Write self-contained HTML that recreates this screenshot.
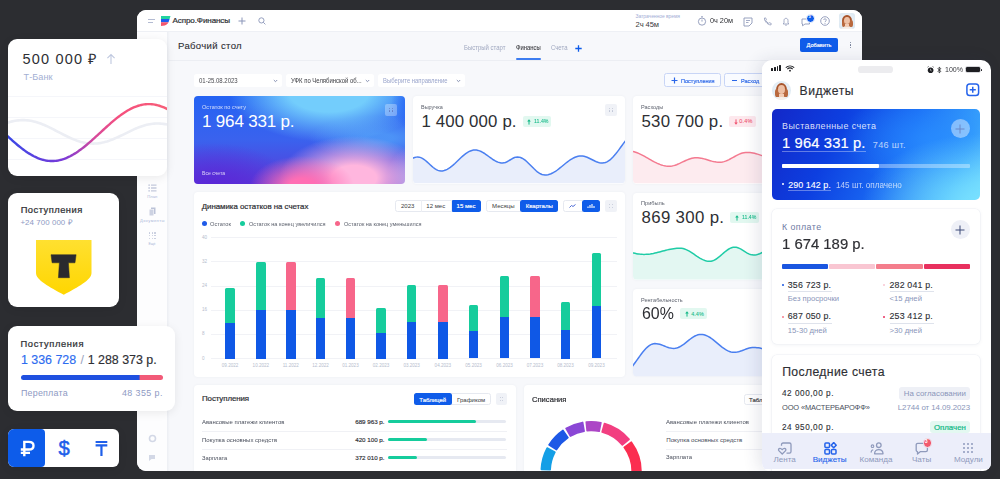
<!DOCTYPE html><html><head><meta charset="utf-8"><style>
html,body{margin:0;padding:0;}
body{width:1000px;height:479px;overflow:hidden;background:#2c2d31;position:relative;font-family:"Liberation Sans", sans-serif;}
</style></head><body><div style="position:absolute;left:137px;top:10px;width:725px;height:460.5px;border-radius:9px;overflow:hidden;background:#f7f8fb"><div style="position:absolute;left:-137px;top:-10px;width:1000px;height:479px"><div style="position:absolute;left:137.00px;top:10.00px;width:725.00px;height:21.00px;background:#ffffff;border-radius:0.00px;"></div><div style="position:absolute;left:137.00px;top:31.00px;width:725.00px;height:1.00px;background:#eef0f5;border-radius:0.00px;"></div><div style="position:absolute;left:137.00px;top:32.00px;width:30.00px;height:439.00px;background:#fdfdfe;border-radius:0.00px;"></div><div style="position:absolute;left:167.00px;top:32.00px;width:3.00px;height:439.00px;background:linear-gradient(90deg,#eceef3,rgba(240,242,247,0));border-radius:0.00px;"></div><div style="position:absolute;left:168.00px;top:60.00px;width:694.00px;height:1.00px;background:#eceef3;border-radius:0.00px;"></div><div style="position:absolute;left:148.00px;top:19.00px;width:7.00px;height:1.00px;background:#b3bbd2;border-radius:0.00px;"></div><div style="position:absolute;left:148.00px;top:21.50px;width:5.00px;height:1.00px;background:#b3bbd2;border-radius:0.00px;"></div><svg style="position:absolute;left:160px;top:16px" width="11" height="10" viewBox="0 0 11 10"><path d="M1 0H10.5L9.6 3H1Z" fill="#22d3a0"/><path d="M1 3H9.6L8.5 6.2H1Z" fill="#1d5ef0"/><path d="M1 6.2H8.5C7.5 8.5 5.5 9.6 3 9.8L1 10Z" fill="#f4566e"/></svg><div id="t1" style="position:absolute;top:17.45px;font-size:8.09px;line-height:8.09px;color:#2e2f34;font-weight:400;white-space:nowrap;letter-spacing:-0.112px;-webkit-text-stroke:0.21px #2e2f34;left:172.50px;">Аспро.Финансы</div><svg style="position:absolute;left:238px;top:17px" width="8" height="8" viewBox="0 0 8 8"><path d="M4 0.5V7.5M0.5 4H7.5" stroke="#8a95b8" stroke-width="1"/></svg><svg style="position:absolute;left:257.5px;top:17px" width="8" height="8" viewBox="0 0 8 8"><circle cx="3.4" cy="3.4" r="2.6" fill="none" stroke="#8a95b8" stroke-width="0.9"/><path d="M5.3 5.3L7.4 7.4" stroke="#8a95b8" stroke-width="0.9"/></svg><div id="t2" style="position:absolute;top:14.15px;font-size:4.98px;line-height:4.98px;color:#a3aed6;font-weight:400;white-space:nowrap;letter-spacing:-0.051px;left:635.50px;">Затраченное время</div><div id="t3" style="position:absolute;top:20.74px;font-size:7.58px;line-height:7.58px;color:#3a3b40;font-weight:400;white-space:nowrap;letter-spacing:-0.070px;left:635.50px;">2ч 45м</div><svg style="position:absolute;left:697px;top:16px" width="10" height="10" viewBox="0 0 10 10"><circle cx="5" cy="5.6" r="3.6" fill="none" stroke="#8d97b8" stroke-width="0.9"/><path d="M4 0.8H6M5 5.6V3.6" stroke="#8d97b8" stroke-width="0.9"/></svg><div id="t4" style="position:absolute;top:17.45px;font-size:8.09px;line-height:8.09px;color:#2e2f34;font-weight:400;white-space:nowrap;letter-spacing:0.000px;left:709.60px;transform:scaleX(0.9020);transform-origin:0 50%;">0ч 20м</div><svg style="position:absolute;left:742.5px;top:16.5px" width="10" height="10" viewBox="0 0 10 10"><path d="M1 1H9V6L6 9H1Z" fill="none" stroke="#8d97b8" stroke-width="0.9"/><path d="M3 3.5H7M3 5.5H5.5" stroke="#8d97b8" stroke-width="0.8"/></svg><svg style="position:absolute;left:762.5px;top:16.5px" width="9" height="9" viewBox="0 0 9 9"><path d="M1.5 1C1 3.5 4 7.6 7.8 8L8.3 6.6L6.6 5.7L5.8 6.4C4.5 5.8 3.3 4.6 2.7 3.3L3.4 2.5L2.5 0.8Z" fill="none" stroke="#8d97b8" stroke-width="0.8"/></svg><svg style="position:absolute;left:782px;top:16.5px" width="8" height="9" viewBox="0 0 8 9"><path d="M1.2 7H6.8L6 5.8V3.5C6 2.2 5.1 1.3 4 1.3C2.9 1.3 2 2.2 2 3.5V5.8Z" fill="none" stroke="#8d97b8" stroke-width="0.8"/><path d="M3.2 8.2H4.8" stroke="#8d97b8" stroke-width="0.8"/></svg><svg style="position:absolute;left:800.5px;top:17px" width="11" height="10" viewBox="0 0 11 10"><path d="M1 2H8.5V7H4L1.5 8.8V7H1Z" fill="none" stroke="#8d97b8" stroke-width="0.9"/></svg><div style="position:absolute;left:806px;top:14px;width:7px;height:7px;border-radius:50%;background:#0f5ce9;border:0.5px solid #fff"></div><div id="t5" style="position:absolute;top:15.39px;font-size:4.15px;line-height:4.15px;color:#fff;font-weight:700;white-space:nowrap;letter-spacing:0.000px;left:809.60px;transform:translateX(-50%);">3</div><svg style="position:absolute;left:819.5px;top:16px" width="10" height="10" viewBox="0 0 10 10"><circle cx="5" cy="5" r="4.3" fill="none" stroke="#8d97b8" stroke-width="0.9"/><path d="M3.6 4C3.6 2.4 6.4 2.4 6.4 4C6.4 5 5 5 5 6.2" fill="none" stroke="#8d97b8" stroke-width="0.8"/><circle cx="5" cy="7.5" r="0.5" fill="#8d97b8"/></svg><div style="position:absolute;left:838.7px;top:12.7px;width:16.5px;height:16.3px;border-radius:3px;overflow:hidden;background:radial-gradient(circle at 50% 45%,#f4f7fa 0%,#d6e5f0 100%)"><div style="position:absolute;left:0;top:0;width:100%;height:100%;filter:blur(0.35px)"><div style="position:absolute;left:22%;top:12%;width:58%;height:70%;border-radius:50% 50% 35% 35%;background:#a8552c"></div><div style="position:absolute;left:18%;top:45%;width:22%;height:40%;border-radius:40%;background:#b9693e"></div><div style="position:absolute;left:62%;top:45%;width:22%;height:40%;border-radius:40%;background:#b9693e"></div><div style="position:absolute;left:33%;top:24%;width:36%;height:46%;border-radius:50%;background:#eec1a6"></div><div style="position:absolute;left:38%;top:68%;width:26%;height:40%;background:#f2cdb6"></div><div style="position:absolute;left:15%;top:86%;width:70%;height:30%;border-radius:50% 50% 0 0;background:#f6efe9"></div></div></div><div id="t6" style="position:absolute;top:40.92px;font-size:9.55px;line-height:9.55px;color:#2e2f34;font-weight:400;white-space:nowrap;letter-spacing:0.339px;-webkit-text-stroke:0.11px #2e2f34;left:178.00px;">Рабочий стол</div><div id="t7" style="position:absolute;top:45.27px;font-size:6.75px;line-height:6.75px;color:#a0a8c0;font-weight:400;white-space:nowrap;letter-spacing:0.000px;left:464.00px;transform:scaleX(0.8859);transform-origin:0 50%;">Быстрый старт</div><div id="t8" style="position:absolute;top:45.27px;font-size:6.75px;line-height:6.75px;color:#3a3b40;font-weight:400;white-space:nowrap;letter-spacing:0.000px;-webkit-text-stroke:0.08px #3a3b40;left:516.00px;transform:scaleX(0.8679);transform-origin:0 50%;">Финансы</div><div style="position:absolute;left:516.00px;top:58.30px;width:25.00px;height:1.70px;background:#3c7cf0;border-radius:1.00px;"></div><div id="t9" style="position:absolute;top:45.27px;font-size:6.75px;line-height:6.75px;color:#a0a8c0;font-weight:400;white-space:nowrap;letter-spacing:0.000px;left:550.60px;transform:scaleX(0.8859);transform-origin:0 50%;">Счета</div><svg style="position:absolute;left:575px;top:44.5px" width="7" height="7" viewBox="0 0 7 7"><path d="M3.5 0.3V6.7M0.3 3.5H6.7" stroke="#0f5ce9" stroke-width="1.3"/></svg><div style="position:absolute;left:799.50px;top:37.50px;width:38.00px;height:14.50px;background:#0f5ce9;border-radius:2.00px;"></div><div id="t10" style="position:absolute;top:41.97px;font-size:6.12px;line-height:6.12px;color:#fff;font-weight:400;white-space:nowrap;letter-spacing:0.000px;-webkit-text-stroke:0.16px #fff;left:818.50px;transform:translateX(-50%) scaleX(0.9259);">Добавить</div><div style="position:absolute;left:850.00px;top:41.70px;width:1.20px;height:1.20px;background:#6b7590;border-radius:1.00px;"></div><div style="position:absolute;left:850.00px;top:44.40px;width:1.20px;height:1.20px;background:#6b7590;border-radius:1.00px;"></div><div style="position:absolute;left:850.00px;top:47.10px;width:1.20px;height:1.20px;background:#6b7590;border-radius:1.00px;"></div><div style="position:absolute;left:194.00px;top:73.50px;width:87.50px;height:13.50px;background:#ffffff;border-radius:2.50px;"></div><div id="t11" style="position:absolute;top:77.52px;font-size:6.43px;line-height:6.43px;color:#4a4b50;font-weight:400;white-space:nowrap;letter-spacing:0.000px;left:199.40px;transform:scaleX(0.9339);transform-origin:0 50%;">01-25.08.2023</div><svg style="position:absolute;left:272.5px;top:79px" width="5" height="4" viewBox="0 0 5 4"><path d="M0.8 1L2.5 2.7L4.2 1" fill="none" stroke="#7b86aa" stroke-width="0.9"/></svg><div style="position:absolute;left:286.00px;top:73.50px;width:87.50px;height:13.50px;background:#ffffff;border-radius:2.50px;"></div><div id="t12" style="position:absolute;top:77.52px;font-size:6.43px;line-height:6.43px;color:#3a3b40;font-weight:400;white-space:nowrap;letter-spacing:0.000px;left:291.00px;transform:scaleX(0.9238);transform-origin:0 50%;">УФК по Челябинской об...</div><svg style="position:absolute;left:364.5px;top:79px" width="5" height="4" viewBox="0 0 5 4"><path d="M0.8 1L2.5 2.7L4.2 1" fill="none" stroke="#7b86aa" stroke-width="0.9"/></svg><div style="position:absolute;left:378.00px;top:73.50px;width:87.00px;height:13.50px;background:#ffffff;border-radius:2.50px;"></div><div id="t13" style="position:absolute;top:77.52px;font-size:6.43px;line-height:6.43px;color:#9aa5cc;font-weight:400;white-space:nowrap;letter-spacing:0.000px;left:383.00px;transform:scaleX(0.9163);transform-origin:0 50%;">Выберите направление</div><svg style="position:absolute;left:456.0px;top:79px" width="5" height="4" viewBox="0 0 5 4"><path d="M0.8 1L2.5 2.7L4.2 1" fill="none" stroke="#7b86aa" stroke-width="0.9"/></svg><div style="position:absolute;left:664.00px;top:73.00px;width:57.00px;height:14.40px;background:#f9fbff;border-radius:2.50px;border:1px solid #c8d5f6;box-sizing:border-box"></div><svg style="position:absolute;left:670.5px;top:77px" width="7" height="7" viewBox="0 0 7 7"><path d="M3.5 0.5V6.5M0.5 3.5H6.5" stroke="#2a66e8" stroke-width="1.2"/></svg><div id="t14" style="position:absolute;top:77.57px;font-size:6.12px;line-height:6.12px;color:#2a66e8;font-weight:400;white-space:nowrap;letter-spacing:0.000px;-webkit-text-stroke:0.16px #2a66e8;left:680.90px;transform:scaleX(0.9047);transform-origin:0 50%;">Поступления</div><div style="position:absolute;left:724.30px;top:73.00px;width:75.70px;height:14.40px;background:#f9fbff;border-radius:2.50px;border:1px solid #c8d5f6;box-sizing:border-box"></div><div style="position:absolute;left:732.00px;top:79.60px;width:4.50px;height:1.20px;background:#2a66e8;border-radius:0.00px;"></div><div id="t15" style="position:absolute;top:77.57px;font-size:6.12px;line-height:6.12px;color:#2a66e8;font-weight:400;white-space:nowrap;letter-spacing:0.000px;-webkit-text-stroke:0.16px #2a66e8;left:740.80px;transform:scaleX(0.9036);transform-origin:0 50%;">Расход</div><div style="position:absolute;left:194.00px;top:95.50px;width:211.00px;height:88.00px;background:radial-gradient(52px 30px at 108px 90px, rgba(255,110,180,1.00) 0%, rgba(255,110,180,1.00) 25%, rgba(255,110,180,0) 100%),radial-gradient(75px 42px at 160px 82px, rgba(255,182,222,1.00) 0%, rgba(255,182,222,1.00) 30%, rgba(255,182,222,0) 100%),radial-gradient(30px 35px at 222px 84px, rgba(150,165,242,1.00) 0%, rgba(150,165,242,1.00) 10%, rgba(150,165,242,0) 100%),radial-gradient(80px 45px at 20px 92px, rgba(90,40,215,1.00) 0%, rgba(90,40,215,1.00) 10%, rgba(90,40,215,0) 100%),radial-gradient(25px 28px at 222px 8px, rgba(35,100,245,1.00) 0%, rgba(35,100,245,1.00) 20%, rgba(35,100,245,0) 100%),radial-gradient(100px 50px at 135px -4px, rgba(115,205,252,1.00) 0%, rgba(115,205,252,1.00) 40%, rgba(115,205,252,0) 100%),radial-gradient(70px 22px at 185px 42px, rgba(80,155,248,0.85) 0%, rgba(80,155,248,0.85) 20%, rgba(80,155,248,0) 100%),linear-gradient(180deg,#2463f3 0%,#3a62ee 50%,#5a3ad8 100%);border-radius:4.00px;"></div><div style="position:absolute;left:385.00px;top:103.70px;width:12.00px;height:12.00px;background:rgba(255,255,255,0.3);border-radius:2.00px;"></div><div style="position:absolute;left:389.10px;top:107.80px;width:1.20px;height:1.20px;background:rgba(80,90,160,0.6);border-radius:50%;"></div><div style="position:absolute;left:389.10px;top:110.40px;width:1.20px;height:1.20px;background:rgba(80,90,160,0.6);border-radius:50%;"></div><div style="position:absolute;left:391.70px;top:107.80px;width:1.20px;height:1.20px;background:rgba(80,90,160,0.6);border-radius:50%;"></div><div style="position:absolute;left:391.70px;top:110.40px;width:1.20px;height:1.20px;background:rgba(80,90,160,0.6);border-radius:50%;"></div><div id="t16" style="position:absolute;top:104.60px;font-size:5.91px;line-height:5.91px;color:rgba(255,255,255,0.78);font-weight:400;white-space:nowrap;letter-spacing:0.000px;left:202.00px;transform:scaleX(0.9485);transform-origin:0 50%;">Остаток по счету</div><div id="t17" style="position:absolute;top:113.33px;font-size:17.02px;line-height:17.02px;color:#ffffff;font-weight:400;white-space:nowrap;letter-spacing:-0.185px;left:202.00px;">1 964 331 р.</div><div id="t18" style="position:absolute;top:170.57px;font-size:5.50px;line-height:5.50px;color:rgba(255,255,255,0.78);font-weight:400;white-space:nowrap;letter-spacing:0.000px;left:202.00px;transform:scaleX(0.9217);transform-origin:0 50%;">Все счета</div><div style="position:absolute;left:413.00px;top:95.50px;width:212.00px;height:88.00px;background:#ffffff;border-radius:4.00px;box-shadow:0 0 3px rgba(40,50,90,0.05)"></div><div id="t19" style="position:absolute;top:104.52px;font-size:5.81px;line-height:5.81px;color:#5a5f6b;font-weight:400;white-space:nowrap;letter-spacing:0.000px;left:421.30px;transform:scaleX(0.9435);transform-origin:0 50%;">Выручка</div><div id="t20" style="position:absolute;top:113.76px;font-size:16.81px;line-height:16.81px;color:#2e2f34;font-weight:400;white-space:nowrap;letter-spacing:0.149px;left:421.50px;">1 400 000 р.</div><div style="position:absolute;left:522.50px;top:115.70px;width:28.80px;height:11.10px;background:#e2f8f0;border-radius:2.00px;"></div><svg style="position:absolute;left:527.2px;top:118.5px" width="4" height="6" viewBox="0 0 4 6"><path d="M2 0.3L3.8 2.6H0.2Z" fill="#12b886"/><path d="M2 2V5.6" stroke="#12b886" stroke-width="1"/></svg><div id="t21" style="position:absolute;top:119.07px;font-size:5.50px;line-height:5.50px;color:#12b886;font-weight:400;white-space:nowrap;letter-spacing:0.000px;-webkit-text-stroke:0.07px #12b886;left:533.75px;transform:scaleX(0.9547);transform-origin:0 50%;">11.4%</div><div style="position:absolute;left:605.00px;top:103.70px;width:12.00px;height:12.00px;background:#f0f2f7;border-radius:2.00px;"></div><div style="position:absolute;left:609.10px;top:107.80px;width:1.20px;height:1.20px;background:#c0c6d6;border-radius:50%;"></div><div style="position:absolute;left:609.10px;top:110.40px;width:1.20px;height:1.20px;background:#c0c6d6;border-radius:50%;"></div><div style="position:absolute;left:611.70px;top:107.80px;width:1.20px;height:1.20px;background:#c0c6d6;border-radius:50%;"></div><div style="position:absolute;left:611.70px;top:110.40px;width:1.20px;height:1.20px;background:#c0c6d6;border-radius:50%;"></div><svg style="position:absolute;left:0;top:0" width="1000" height="479"><defs><clipPath id="c21"><rect x="413.0" y="95.5" width="212.0" height="88.0" rx="4"/></clipPath></defs><g clip-path="url(#c21)"><path d="M395.00 168.00 L396.51 167.88 L398.03 167.52 L399.54 166.95 L401.05 166.18 L402.57 165.25 L404.08 164.20 L405.59 163.07 L407.11 161.93 L408.62 160.80 L410.13 159.75 L411.65 158.82 L413.16 158.05 L414.67 157.48 L416.19 157.12 L417.70 157.00 L419.25 157.15 L420.81 157.61 L422.36 158.34 L423.91 159.32 L425.47 160.50 L427.02 161.84 L428.57 163.27 L430.13 164.73 L431.68 166.16 L433.23 167.50 L434.79 168.68 L436.34 169.66 L437.89 170.39 L439.45 170.85 L441.00 171.00 L442.55 170.89 L444.09 170.57 L445.64 170.05 L447.18 169.33 L448.73 168.44 L450.27 167.38 L451.82 166.18 L453.36 164.86 L454.91 163.46 L456.45 161.99 L458.00 160.50 L459.55 159.01 L461.09 157.54 L462.64 156.14 L464.18 154.82 L465.73 153.62 L467.27 152.56 L468.82 151.67 L470.36 150.95 L471.91 150.43 L473.45 150.11 L475.00 150.00 L476.53 150.10 L478.06 150.39 L479.58 150.87 L481.11 151.52 L482.64 152.32 L484.17 153.25 L485.69 154.28 L487.22 155.37 L488.75 156.50 L490.28 157.63 L491.81 158.72 L493.33 159.75 L494.86 160.68 L496.39 161.48 L497.92 162.13 L499.44 162.61 L500.97 162.90 L502.50 163.00 L504.00 162.85 L505.50 162.43 L507.00 161.76 L508.50 160.93 L510.00 160.00 L511.50 159.07 L513.00 158.24 L514.50 157.57 L516.00 157.15 L517.50 157.00 L519.03 157.14 L520.56 157.54 L522.08 158.21 L523.61 159.11 L525.14 160.21 L526.67 161.50 L528.19 162.92 L529.72 164.44 L531.25 166.00 L532.78 167.56 L534.31 169.08 L535.83 170.50 L537.36 171.79 L538.89 172.89 L540.42 173.79 L541.94 174.46 L543.47 174.86 L545.00 175.00 L546.50 174.92 L548.00 174.68 L549.50 174.28 L551.00 173.73 L552.50 173.04 L554.00 172.22 L555.50 171.28 L557.00 170.25 L558.50 169.14 L560.00 167.96 L561.50 166.74 L563.00 165.50 L564.50 164.26 L566.00 163.04 L567.50 161.86 L569.00 160.75 L570.50 159.72 L572.00 158.78 L573.50 157.96 L575.00 157.27 L576.50 156.72 L578.00 156.32 L579.50 156.08 L581.00 156.00 L582.54 156.09 L584.07 156.35 L585.61 156.76 L587.14 157.32 L588.68 157.98 L590.21 158.72 L591.75 159.50 L593.29 160.28 L594.82 161.02 L596.36 161.68 L597.89 162.24 L599.43 162.65 L600.96 162.91 L602.50 163.00 L604.00 162.87 L605.50 162.48 L607.00 161.84 L608.50 160.96 L610.00 159.85 L611.50 158.53 L613.00 157.02 L614.50 155.34 L616.00 153.53 L617.50 151.60 L619.00 149.59 L620.50 147.54 L622.00 145.46 L623.50 143.41 L625.00 141.40 L626.50 139.47 L628.00 137.66 L629.50 135.98 L631.00 134.47 L632.50 133.15 L634.00 132.04 L635.50 131.16 L637.00 130.52 L638.50 130.13 L640.00 130.00 L640.0 183.5 L395.0 183.5 Z" fill="#e9eefb"/><path d="M395.00 168.00 L396.51 167.88 L398.03 167.52 L399.54 166.95 L401.05 166.18 L402.57 165.25 L404.08 164.20 L405.59 163.07 L407.11 161.93 L408.62 160.80 L410.13 159.75 L411.65 158.82 L413.16 158.05 L414.67 157.48 L416.19 157.12 L417.70 157.00 L419.25 157.15 L420.81 157.61 L422.36 158.34 L423.91 159.32 L425.47 160.50 L427.02 161.84 L428.57 163.27 L430.13 164.73 L431.68 166.16 L433.23 167.50 L434.79 168.68 L436.34 169.66 L437.89 170.39 L439.45 170.85 L441.00 171.00 L442.55 170.89 L444.09 170.57 L445.64 170.05 L447.18 169.33 L448.73 168.44 L450.27 167.38 L451.82 166.18 L453.36 164.86 L454.91 163.46 L456.45 161.99 L458.00 160.50 L459.55 159.01 L461.09 157.54 L462.64 156.14 L464.18 154.82 L465.73 153.62 L467.27 152.56 L468.82 151.67 L470.36 150.95 L471.91 150.43 L473.45 150.11 L475.00 150.00 L476.53 150.10 L478.06 150.39 L479.58 150.87 L481.11 151.52 L482.64 152.32 L484.17 153.25 L485.69 154.28 L487.22 155.37 L488.75 156.50 L490.28 157.63 L491.81 158.72 L493.33 159.75 L494.86 160.68 L496.39 161.48 L497.92 162.13 L499.44 162.61 L500.97 162.90 L502.50 163.00 L504.00 162.85 L505.50 162.43 L507.00 161.76 L508.50 160.93 L510.00 160.00 L511.50 159.07 L513.00 158.24 L514.50 157.57 L516.00 157.15 L517.50 157.00 L519.03 157.14 L520.56 157.54 L522.08 158.21 L523.61 159.11 L525.14 160.21 L526.67 161.50 L528.19 162.92 L529.72 164.44 L531.25 166.00 L532.78 167.56 L534.31 169.08 L535.83 170.50 L537.36 171.79 L538.89 172.89 L540.42 173.79 L541.94 174.46 L543.47 174.86 L545.00 175.00 L546.50 174.92 L548.00 174.68 L549.50 174.28 L551.00 173.73 L552.50 173.04 L554.00 172.22 L555.50 171.28 L557.00 170.25 L558.50 169.14 L560.00 167.96 L561.50 166.74 L563.00 165.50 L564.50 164.26 L566.00 163.04 L567.50 161.86 L569.00 160.75 L570.50 159.72 L572.00 158.78 L573.50 157.96 L575.00 157.27 L576.50 156.72 L578.00 156.32 L579.50 156.08 L581.00 156.00 L582.54 156.09 L584.07 156.35 L585.61 156.76 L587.14 157.32 L588.68 157.98 L590.21 158.72 L591.75 159.50 L593.29 160.28 L594.82 161.02 L596.36 161.68 L597.89 162.24 L599.43 162.65 L600.96 162.91 L602.50 163.00 L604.00 162.87 L605.50 162.48 L607.00 161.84 L608.50 160.96 L610.00 159.85 L611.50 158.53 L613.00 157.02 L614.50 155.34 L616.00 153.53 L617.50 151.60 L619.00 149.59 L620.50 147.54 L622.00 145.46 L623.50 143.41 L625.00 141.40 L626.50 139.47 L628.00 137.66 L629.50 135.98 L631.00 134.47 L632.50 133.15 L634.00 132.04 L635.50 131.16 L637.00 130.52 L638.50 130.13 L640.00 130.00" fill="none" stroke="#4a7ff0" stroke-width="1.5"/></g></svg><div style="position:absolute;left:633.00px;top:95.50px;width:229.00px;height:88.00px;background:#ffffff;border-radius:4.00px;box-shadow:0 0 3px rgba(40,50,90,0.05)"></div><div id="t22" style="position:absolute;top:104.52px;font-size:5.81px;line-height:5.81px;color:#5a5f6b;font-weight:400;white-space:nowrap;letter-spacing:0.000px;left:641.30px;transform:scaleX(0.9579);transform-origin:0 50%;">Расходы</div><div id="t23" style="position:absolute;top:113.76px;font-size:16.81px;line-height:16.81px;color:#2e2f34;font-weight:400;white-space:nowrap;letter-spacing:0.239px;left:641.50px;">530 700 р.</div><div style="position:absolute;left:728.60px;top:115.70px;width:27.40px;height:11.10px;background:#fde8ed;border-radius:2.00px;"></div><svg style="position:absolute;left:734.0px;top:118.5px" width="4" height="6" viewBox="0 0 4 6"><path d="M2 5.7L3.8 3.4H0.2Z" fill="#f0506e"/><path d="M2 4V0.4" stroke="#f0506e" stroke-width="1"/></svg><div id="t24" style="position:absolute;top:119.07px;font-size:5.50px;line-height:5.50px;color:#f0506e;font-weight:400;white-space:nowrap;letter-spacing:0.213px;-webkit-text-stroke:0.07px #f0506e;left:739.30px;">0.4%</div><svg style="position:absolute;left:0;top:0" width="1000" height="479"><defs><clipPath id="c24"><rect x="633.0" y="95.5" width="229.0" height="88.0" rx="4"/></clipPath></defs><g clip-path="url(#c24)"><path d="M628.00 151.00 L629.52 151.05 L631.04 151.20 L632.56 151.46 L634.07 151.81 L635.59 152.25 L637.11 152.78 L638.63 153.38 L640.15 154.06 L641.67 154.80 L643.19 155.59 L644.70 156.42 L646.22 157.28 L647.74 158.16 L649.26 159.04 L650.78 159.92 L652.30 160.78 L653.81 161.61 L655.33 162.40 L656.85 163.14 L658.37 163.82 L659.89 164.42 L661.41 164.95 L662.93 165.39 L664.44 165.74 L665.96 166.00 L667.48 166.15 L669.00 166.20 L670.52 166.14 L672.04 165.94 L673.57 165.63 L675.09 165.21 L676.61 164.68 L678.13 164.07 L679.66 163.40 L681.18 162.69 L682.70 161.95 L684.22 161.21 L685.74 160.50 L687.27 159.82 L688.79 159.22 L690.31 158.69 L691.83 158.27 L693.36 157.96 L694.88 157.76 L696.40 157.70 L697.93 157.75 L699.47 157.90 L701.00 158.14 L702.53 158.46 L704.07 158.85 L705.60 159.29 L707.13 159.76 L708.67 160.24 L710.20 160.71 L711.73 161.15 L713.27 161.54 L714.80 161.86 L716.33 162.10 L717.87 162.25 L719.40 162.30 L720.93 162.22 L722.47 162.00 L724.00 161.64 L725.53 161.14 L727.07 160.53 L728.60 159.83 L730.13 159.04 L731.67 158.21 L733.20 157.35 L734.73 156.49 L736.27 155.66 L737.80 154.88 L739.33 154.17 L740.87 153.56 L742.40 153.06 L743.93 152.70 L745.47 152.48 L747.00 152.40 L748.50 152.44 L750.00 152.55 L751.50 152.74 L753.00 153.00 L754.50 153.33 L756.00 153.71 L757.50 154.15 L759.00 154.62 L760.50 155.13 L762.00 155.66 L763.50 156.20 L765.00 156.74 L766.50 157.27 L768.00 157.78 L769.50 158.25 L771.00 158.69 L772.50 159.07 L774.00 159.40 L775.50 159.66 L777.00 159.85 L778.50 159.96 L780.00 160.00 L780.0 183.5 L628.0 183.5 Z" fill="#fdebef"/><path d="M628.00 151.00 L629.52 151.05 L631.04 151.20 L632.56 151.46 L634.07 151.81 L635.59 152.25 L637.11 152.78 L638.63 153.38 L640.15 154.06 L641.67 154.80 L643.19 155.59 L644.70 156.42 L646.22 157.28 L647.74 158.16 L649.26 159.04 L650.78 159.92 L652.30 160.78 L653.81 161.61 L655.33 162.40 L656.85 163.14 L658.37 163.82 L659.89 164.42 L661.41 164.95 L662.93 165.39 L664.44 165.74 L665.96 166.00 L667.48 166.15 L669.00 166.20 L670.52 166.14 L672.04 165.94 L673.57 165.63 L675.09 165.21 L676.61 164.68 L678.13 164.07 L679.66 163.40 L681.18 162.69 L682.70 161.95 L684.22 161.21 L685.74 160.50 L687.27 159.82 L688.79 159.22 L690.31 158.69 L691.83 158.27 L693.36 157.96 L694.88 157.76 L696.40 157.70 L697.93 157.75 L699.47 157.90 L701.00 158.14 L702.53 158.46 L704.07 158.85 L705.60 159.29 L707.13 159.76 L708.67 160.24 L710.20 160.71 L711.73 161.15 L713.27 161.54 L714.80 161.86 L716.33 162.10 L717.87 162.25 L719.40 162.30 L720.93 162.22 L722.47 162.00 L724.00 161.64 L725.53 161.14 L727.07 160.53 L728.60 159.83 L730.13 159.04 L731.67 158.21 L733.20 157.35 L734.73 156.49 L736.27 155.66 L737.80 154.88 L739.33 154.17 L740.87 153.56 L742.40 153.06 L743.93 152.70 L745.47 152.48 L747.00 152.40 L748.50 152.44 L750.00 152.55 L751.50 152.74 L753.00 153.00 L754.50 153.33 L756.00 153.71 L757.50 154.15 L759.00 154.62 L760.50 155.13 L762.00 155.66 L763.50 156.20 L765.00 156.74 L766.50 157.27 L768.00 157.78 L769.50 158.25 L771.00 158.69 L772.50 159.07 L774.00 159.40 L775.50 159.66 L777.00 159.85 L778.50 159.96 L780.00 160.00" fill="none" stroke="#f47a90" stroke-width="1.5"/></g></svg><div style="position:absolute;left:633.00px;top:192.70px;width:229.00px;height:87.00px;background:#ffffff;border-radius:4.00px;box-shadow:0 0 3px rgba(40,50,90,0.05)"></div><div id="t25" style="position:absolute;top:200.92px;font-size:5.81px;line-height:5.81px;color:#5a5f6b;font-weight:400;white-space:nowrap;letter-spacing:0.000px;left:641.30px;transform:scaleX(0.9661);transform-origin:0 50%;">Прибыль</div><div id="t26" style="position:absolute;top:210.16px;font-size:16.81px;line-height:16.81px;color:#2e2f34;font-weight:400;white-space:nowrap;letter-spacing:0.349px;left:641.50px;">869 300 р.</div><div style="position:absolute;left:730.00px;top:212.10px;width:29.20px;height:11.10px;background:#e2f8f0;border-radius:2.00px;"></div><svg style="position:absolute;left:734.8px;top:214.9px" width="4" height="6" viewBox="0 0 4 6"><path d="M2 0.3L3.8 2.6H0.2Z" fill="#12b886"/><path d="M2 2V5.6" stroke="#12b886" stroke-width="1"/></svg><div id="t27" style="position:absolute;top:215.47px;font-size:5.50px;line-height:5.50px;color:#12b886;font-weight:400;white-space:nowrap;letter-spacing:0.000px;-webkit-text-stroke:0.07px #12b886;left:741.70px;transform:scaleX(0.9416);transform-origin:0 50%;">11.4%</div><svg style="position:absolute;left:0;top:0" width="1000" height="479"><defs><clipPath id="c27"><rect x="633.0" y="192.7" width="229.0" height="87.0" rx="4"/></clipPath></defs><g clip-path="url(#c27)"><path d="M620.00 251.00 L621.50 251.03 L623.00 251.13 L624.50 251.29 L626.00 251.50 L627.50 251.76 L629.00 252.05 L630.50 252.37 L632.00 252.70 L633.50 253.03 L635.00 253.35 L636.50 253.64 L638.00 253.90 L639.50 254.11 L641.00 254.27 L642.50 254.37 L644.00 254.40 L645.56 254.37 L647.12 254.29 L648.68 254.14 L650.24 253.95 L651.80 253.70 L653.37 253.42 L654.93 253.09 L656.49 252.73 L658.05 252.34 L659.61 251.93 L661.17 251.51 L662.73 251.09 L664.29 250.67 L665.85 250.26 L667.41 249.87 L668.97 249.51 L670.53 249.18 L672.10 248.90 L673.66 248.65 L675.22 248.46 L676.78 248.31 L678.34 248.23 L679.90 248.20 L681.46 248.29 L683.03 248.55 L684.59 248.99 L686.15 249.58 L687.72 250.31 L689.28 251.17 L690.84 252.12 L692.41 253.14 L693.97 254.21 L695.53 255.29 L697.09 256.36 L698.66 257.38 L700.22 258.33 L701.78 259.19 L703.35 259.92 L704.91 260.51 L706.47 260.95 L708.04 261.21 L709.60 261.30 L711.17 261.16 L712.74 260.76 L714.31 260.11 L715.88 259.24 L717.44 258.17 L719.01 256.95 L720.58 255.63 L722.15 254.25 L723.72 252.87 L725.29 251.55 L726.86 250.33 L728.43 249.26 L729.99 248.39 L731.56 247.74 L733.13 247.34 L734.70 247.20 L736.27 247.33 L737.83 247.72 L739.40 248.34 L740.97 249.15 L742.53 250.09 L744.10 251.10 L745.67 252.11 L747.23 253.05 L748.80 253.86 L750.37 254.48 L751.93 254.87 L753.50 255.00 L755.04 254.91 L756.57 254.65 L758.11 254.24 L759.64 253.68 L761.18 253.02 L762.71 252.28 L764.25 251.50 L765.79 250.72 L767.32 249.98 L768.86 249.32 L770.39 248.76 L771.93 248.35 L773.46 248.09 L775.00 248.00 L775.0 279.7 L620.0 279.7 Z" fill="#e3f7f2"/><path d="M620.00 251.00 L621.50 251.03 L623.00 251.13 L624.50 251.29 L626.00 251.50 L627.50 251.76 L629.00 252.05 L630.50 252.37 L632.00 252.70 L633.50 253.03 L635.00 253.35 L636.50 253.64 L638.00 253.90 L639.50 254.11 L641.00 254.27 L642.50 254.37 L644.00 254.40 L645.56 254.37 L647.12 254.29 L648.68 254.14 L650.24 253.95 L651.80 253.70 L653.37 253.42 L654.93 253.09 L656.49 252.73 L658.05 252.34 L659.61 251.93 L661.17 251.51 L662.73 251.09 L664.29 250.67 L665.85 250.26 L667.41 249.87 L668.97 249.51 L670.53 249.18 L672.10 248.90 L673.66 248.65 L675.22 248.46 L676.78 248.31 L678.34 248.23 L679.90 248.20 L681.46 248.29 L683.03 248.55 L684.59 248.99 L686.15 249.58 L687.72 250.31 L689.28 251.17 L690.84 252.12 L692.41 253.14 L693.97 254.21 L695.53 255.29 L697.09 256.36 L698.66 257.38 L700.22 258.33 L701.78 259.19 L703.35 259.92 L704.91 260.51 L706.47 260.95 L708.04 261.21 L709.60 261.30 L711.17 261.16 L712.74 260.76 L714.31 260.11 L715.88 259.24 L717.44 258.17 L719.01 256.95 L720.58 255.63 L722.15 254.25 L723.72 252.87 L725.29 251.55 L726.86 250.33 L728.43 249.26 L729.99 248.39 L731.56 247.74 L733.13 247.34 L734.70 247.20 L736.27 247.33 L737.83 247.72 L739.40 248.34 L740.97 249.15 L742.53 250.09 L744.10 251.10 L745.67 252.11 L747.23 253.05 L748.80 253.86 L750.37 254.48 L751.93 254.87 L753.50 255.00 L755.04 254.91 L756.57 254.65 L758.11 254.24 L759.64 253.68 L761.18 253.02 L762.71 252.28 L764.25 251.50 L765.79 250.72 L767.32 249.98 L768.86 249.32 L770.39 248.76 L771.93 248.35 L773.46 248.09 L775.00 248.00" fill="none" stroke="#1fcca6" stroke-width="1.5"/></g></svg><div style="position:absolute;left:633.00px;top:289.20px;width:229.00px;height:87.30px;background:#ffffff;border-radius:4.00px;box-shadow:0 0 3px rgba(40,50,90,0.05)"></div><div id="t28" style="position:absolute;top:297.52px;font-size:5.81px;line-height:5.81px;color:#5a5f6b;font-weight:400;white-space:nowrap;letter-spacing:0.000px;left:641.30px;transform:scaleX(0.9576);transform-origin:0 50%;">Рентабельность</div><div id="t29" style="position:absolute;top:306.26px;font-size:16.81px;line-height:16.81px;color:#2e2f34;font-weight:400;white-space:nowrap;letter-spacing:0.000px;left:641.50px;transform:scaleX(0.9487);transform-origin:0 50%;">60%</div><div style="position:absolute;left:680.30px;top:308.20px;width:26.90px;height:11.10px;background:#e2f8f0;border-radius:2.00px;"></div><svg style="position:absolute;left:685.1px;top:311.0px" width="4" height="6" viewBox="0 0 4 6"><path d="M2 0.3L3.8 2.6H0.2Z" fill="#12b886"/><path d="M2 2V5.6" stroke="#12b886" stroke-width="1"/></svg><div id="t30" style="position:absolute;top:311.57px;font-size:5.50px;line-height:5.50px;color:#12b886;font-weight:400;white-space:nowrap;letter-spacing:-0.012px;-webkit-text-stroke:0.07px #12b886;left:691.30px;">4.4%</div><svg style="position:absolute;left:0;top:0" width="1000" height="479"><defs><clipPath id="c30"><rect x="633.0" y="289.2" width="229.0" height="87.3" rx="4"/></clipPath></defs><g clip-path="url(#c30)"><path d="M620.00 375.00 L621.52 374.85 L623.04 374.42 L624.57 373.70 L626.09 372.71 L627.61 371.48 L629.13 370.02 L630.65 368.35 L632.17 366.52 L633.70 364.56 L635.22 362.49 L636.74 360.37 L638.26 358.23 L639.78 356.11 L641.30 354.04 L642.83 352.08 L644.35 350.25 L645.87 348.58 L647.39 347.12 L648.91 345.89 L650.43 344.90 L651.96 344.18 L653.48 343.75 L655.00 343.60 L656.56 343.68 L658.12 343.92 L659.67 344.30 L661.23 344.80 L662.79 345.38 L664.35 346.00 L665.91 346.62 L667.47 347.20 L669.03 347.70 L670.58 348.08 L672.14 348.32 L673.70 348.40 L675.22 348.29 L676.73 347.98 L678.25 347.46 L679.77 346.76 L681.28 345.90 L682.80 344.90 L684.32 343.79 L685.83 342.62 L687.35 341.40 L688.87 340.18 L690.38 339.01 L691.90 337.90 L693.42 336.90 L694.93 336.04 L696.45 335.34 L697.97 334.82 L699.48 334.51 L701.00 334.40 L702.50 334.49 L704.00 334.76 L705.50 335.21 L707.00 335.82 L708.50 336.59 L710.00 337.49 L711.50 338.51 L713.00 339.63 L714.50 340.83 L716.00 342.08 L717.50 343.35 L719.00 344.62 L720.50 345.87 L722.00 347.07 L723.50 348.19 L725.00 349.21 L726.50 350.11 L728.00 350.88 L729.50 351.49 L731.00 351.94 L732.50 352.21 L734.00 352.30 L735.52 352.23 L737.05 352.03 L738.57 351.70 L740.09 351.26 L741.62 350.75 L743.14 350.19 L744.66 349.61 L746.18 349.05 L747.71 348.54 L749.23 348.10 L750.75 347.77 L752.28 347.57 L753.80 347.50 L755.34 347.54 L756.88 347.65 L758.42 347.84 L759.96 348.09 L761.51 348.39 L763.05 348.75 L764.59 349.13 L766.13 349.54 L767.67 349.96 L769.21 350.37 L770.75 350.75 L772.29 351.11 L773.84 351.41 L775.38 351.66 L776.92 351.85 L778.46 351.96 L780.00 352.00 L780.0 376.5 L620.0 376.5 Z" fill="#e9eefb"/><path d="M620.00 375.00 L621.52 374.85 L623.04 374.42 L624.57 373.70 L626.09 372.71 L627.61 371.48 L629.13 370.02 L630.65 368.35 L632.17 366.52 L633.70 364.56 L635.22 362.49 L636.74 360.37 L638.26 358.23 L639.78 356.11 L641.30 354.04 L642.83 352.08 L644.35 350.25 L645.87 348.58 L647.39 347.12 L648.91 345.89 L650.43 344.90 L651.96 344.18 L653.48 343.75 L655.00 343.60 L656.56 343.68 L658.12 343.92 L659.67 344.30 L661.23 344.80 L662.79 345.38 L664.35 346.00 L665.91 346.62 L667.47 347.20 L669.03 347.70 L670.58 348.08 L672.14 348.32 L673.70 348.40 L675.22 348.29 L676.73 347.98 L678.25 347.46 L679.77 346.76 L681.28 345.90 L682.80 344.90 L684.32 343.79 L685.83 342.62 L687.35 341.40 L688.87 340.18 L690.38 339.01 L691.90 337.90 L693.42 336.90 L694.93 336.04 L696.45 335.34 L697.97 334.82 L699.48 334.51 L701.00 334.40 L702.50 334.49 L704.00 334.76 L705.50 335.21 L707.00 335.82 L708.50 336.59 L710.00 337.49 L711.50 338.51 L713.00 339.63 L714.50 340.83 L716.00 342.08 L717.50 343.35 L719.00 344.62 L720.50 345.87 L722.00 347.07 L723.50 348.19 L725.00 349.21 L726.50 350.11 L728.00 350.88 L729.50 351.49 L731.00 351.94 L732.50 352.21 L734.00 352.30 L735.52 352.23 L737.05 352.03 L738.57 351.70 L740.09 351.26 L741.62 350.75 L743.14 350.19 L744.66 349.61 L746.18 349.05 L747.71 348.54 L749.23 348.10 L750.75 347.77 L752.28 347.57 L753.80 347.50 L755.34 347.54 L756.88 347.65 L758.42 347.84 L759.96 348.09 L761.51 348.39 L763.05 348.75 L764.59 349.13 L766.13 349.54 L767.67 349.96 L769.21 350.37 L770.75 350.75 L772.29 351.11 L773.84 351.41 L775.38 351.66 L776.92 351.85 L778.46 351.96 L780.00 352.00" fill="none" stroke="#4a7ff0" stroke-width="1.5"/></g></svg><div style="position:absolute;left:194.00px;top:192.00px;width:431.00px;height:185.00px;background:#ffffff;border-radius:4.00px;box-shadow:0 0 3px rgba(40,50,90,0.05)"></div><div id="t31" style="position:absolute;top:202.89px;font-size:7.89px;line-height:7.89px;color:#2e2f34;font-weight:400;white-space:nowrap;letter-spacing:-0.019px;-webkit-text-stroke:0.21px #2e2f34;left:201.70px;">Динамика остатков на счетах</div><div style="position:absolute;left:394.70px;top:200.00px;width:86.40px;height:12.20px;background:#ffffff;border-radius:2.50px;border:1px solid #e6e9f0;box-sizing:border-box"></div><div id="t32" style="position:absolute;top:203.19px;font-size:6.02px;line-height:6.02px;color:#3a3b40;font-weight:400;white-space:nowrap;letter-spacing:0.000px;left:407.65px;transform:translateX(-50%);">2023</div><div id="t33" style="position:absolute;top:203.19px;font-size:6.02px;line-height:6.02px;color:#3a3b40;font-weight:400;white-space:nowrap;letter-spacing:0.000px;left:435.80px;transform:translateX(-50%);">12 мес</div><div style="position:absolute;left:451.00px;top:200.00px;width:30.10px;height:12.20px;background:#0f5ce9;border-radius:2.50px;"></div><div id="t34" style="position:absolute;top:203.19px;font-size:6.02px;line-height:6.02px;color:#fff;font-weight:400;white-space:nowrap;letter-spacing:0.000px;-webkit-text-stroke:0.16px #fff;left:466.05px;transform:translateX(-50%);">15 мес</div><div style="position:absolute;left:420.60px;top:200.00px;width:0.80px;height:12.00px;background:#eceef3;border-radius:0.00px;"></div><div style="position:absolute;left:451.00px;top:200.00px;width:0.80px;height:12.00px;background:#eceef3;border-radius:0.00px;"></div><div style="position:absolute;left:486.40px;top:200.00px;width:71.70px;height:12.20px;background:#ffffff;border-radius:2.50px;border:1px solid #e6e9f0;box-sizing:border-box"></div><div id="t35" style="position:absolute;top:203.19px;font-size:6.02px;line-height:6.02px;color:#3a3b40;font-weight:400;white-space:nowrap;letter-spacing:0.000px;left:503.35px;transform:translateX(-50%);">Месяцы</div><div style="position:absolute;left:520.30px;top:200.00px;width:37.80px;height:12.20px;background:#0f5ce9;border-radius:2.50px;"></div><div id="t36" style="position:absolute;top:203.19px;font-size:6.02px;line-height:6.02px;color:#fff;font-weight:400;white-space:nowrap;letter-spacing:0.000px;-webkit-text-stroke:0.16px #fff;left:539.20px;transform:translateX(-50%);">Кварталы</div><div style="position:absolute;left:563.30px;top:200.00px;width:36.80px;height:12.20px;background:#ffffff;border-radius:2.50px;border:1px solid #e6e9f0;box-sizing:border-box"></div><div style="position:absolute;left:582.00px;top:200.00px;width:18.10px;height:12.20px;background:#0f5ce9;border-radius:2.50px;"></div><svg style="position:absolute;left:569px;top:203px" width="8" height="6" viewBox="0 0 8 6"><path d="M0.5 4.5L2.5 2.5L4 3.5L6.5 1.5" fill="none" stroke="#3a5ad0" stroke-width="0.9"/></svg><svg style="position:absolute;left:587px;top:203px" width="8" height="6" viewBox="0 0 8 6"><path d="M1 5V3.5M3 5V2M5 5V1M7 5V3" stroke="#fff" stroke-width="1.1"/></svg><div style="position:absolute;left:605.30px;top:200.00px;width:11.70px;height:12.00px;background:#f0f2f7;border-radius:2.00px;"></div><div style="position:absolute;left:609.30px;top:204.10px;width:1.20px;height:1.20px;background:#c0c6d6;border-radius:50%;"></div><div style="position:absolute;left:609.30px;top:206.70px;width:1.20px;height:1.20px;background:#c0c6d6;border-radius:50%;"></div><div style="position:absolute;left:611.90px;top:204.10px;width:1.20px;height:1.20px;background:#c0c6d6;border-radius:50%;"></div><div style="position:absolute;left:611.90px;top:206.70px;width:1.20px;height:1.20px;background:#c0c6d6;border-radius:50%;"></div><div style="position:absolute;left:201.70px;top:221.20px;width:5.00px;height:5.00px;background:#1f5be8;border-radius:50%;"></div><div id="t37" style="position:absolute;top:221.29px;font-size:6.02px;line-height:6.02px;color:#5a5f6b;font-weight:400;white-space:nowrap;letter-spacing:0.000px;left:209.70px;transform:scaleX(0.9432);transform-origin:0 50%;">Остаток</div><div style="position:absolute;left:240.10px;top:221.20px;width:5.00px;height:5.00px;background:#16cc9c;border-radius:50%;"></div><div id="t38" style="position:absolute;top:221.29px;font-size:6.02px;line-height:6.02px;color:#5a5f6b;font-weight:400;white-space:nowrap;letter-spacing:0.000px;left:248.50px;transform:scaleX(0.9271);transform-origin:0 50%;">Остаток на конец увеличился</div><div style="position:absolute;left:334.60px;top:221.20px;width:5.00px;height:5.00px;background:#f7668a;border-radius:50%;"></div><div id="t39" style="position:absolute;top:221.29px;font-size:6.02px;line-height:6.02px;color:#5a5f6b;font-weight:400;white-space:nowrap;letter-spacing:0.000px;left:343.60px;transform:scaleX(0.9124);transform-origin:0 50%;">Остаток на конец уменьшился</div><div style="position:absolute;left:211.00px;top:237.10px;width:406.00px;height:0.90px;background:#f1f2f6;border-radius:0.00px;"></div><div id="t40" style="position:absolute;top:235.62px;font-size:4.57px;line-height:4.57px;color:#b5bccd;font-weight:400;white-space:nowrap;letter-spacing:0.000px;left:202.00px;">40</div><div style="position:absolute;left:211.00px;top:261.30px;width:406.00px;height:0.90px;background:#f1f2f6;border-radius:0.00px;"></div><div id="t41" style="position:absolute;top:259.82px;font-size:4.57px;line-height:4.57px;color:#b5bccd;font-weight:400;white-space:nowrap;letter-spacing:0.000px;left:202.00px;">32</div><div style="position:absolute;left:211.00px;top:285.50px;width:406.00px;height:0.90px;background:#f1f2f6;border-radius:0.00px;"></div><div id="t42" style="position:absolute;top:284.02px;font-size:4.57px;line-height:4.57px;color:#b5bccd;font-weight:400;white-space:nowrap;letter-spacing:0.000px;left:202.00px;">24</div><div style="position:absolute;left:211.00px;top:309.70px;width:406.00px;height:0.90px;background:#f1f2f6;border-radius:0.00px;"></div><div id="t43" style="position:absolute;top:308.22px;font-size:4.57px;line-height:4.57px;color:#b5bccd;font-weight:400;white-space:nowrap;letter-spacing:0.000px;left:202.00px;">16</div><div style="position:absolute;left:211.00px;top:333.90px;width:406.00px;height:0.90px;background:#f1f2f6;border-radius:0.00px;"></div><div id="t44" style="position:absolute;top:332.42px;font-size:4.57px;line-height:4.57px;color:#b5bccd;font-weight:400;white-space:nowrap;letter-spacing:0.000px;left:202.00px;">8</div><div style="position:absolute;left:211.00px;top:358.10px;width:406.00px;height:0.90px;background:#f1f2f6;border-radius:0.00px;"></div><div id="t45" style="position:absolute;top:356.62px;font-size:4.57px;line-height:4.57px;color:#b5bccd;font-weight:400;white-space:nowrap;letter-spacing:0.000px;left:202.00px;">0</div><div style="position:absolute;left:225.20px;top:288.00px;width:9.70px;height:36.00px;background:#16cc9c;border-radius:1.5px 1.5px 0 0;"></div><div style="position:absolute;left:225.20px;top:323.00px;width:9.70px;height:35.50px;background:#0f58e6;border-radius:0.00px;"></div><div id="t46" style="position:absolute;top:363.92px;font-size:4.57px;line-height:4.57px;color:#b5bccd;font-weight:400;white-space:nowrap;letter-spacing:0.000px;left:230.05px;transform:translateX(-50%);">09.2022</div><div style="position:absolute;left:256.00px;top:262.00px;width:9.70px;height:49.00px;background:#16cc9c;border-radius:1.5px 1.5px 0 0;"></div><div style="position:absolute;left:256.00px;top:310.00px;width:9.70px;height:48.50px;background:#0f58e6;border-radius:0.00px;"></div><div id="t47" style="position:absolute;top:363.92px;font-size:4.57px;line-height:4.57px;color:#b5bccd;font-weight:400;white-space:nowrap;letter-spacing:0.000px;left:260.85px;transform:translateX(-50%);">10.2022</div><div style="position:absolute;left:285.90px;top:262.00px;width:9.70px;height:49.00px;background:#f7668a;border-radius:1.5px 1.5px 0 0;"></div><div style="position:absolute;left:285.90px;top:310.00px;width:9.70px;height:48.50px;background:#0f58e6;border-radius:0.00px;"></div><div id="t48" style="position:absolute;top:363.92px;font-size:4.57px;line-height:4.57px;color:#b5bccd;font-weight:400;white-space:nowrap;letter-spacing:0.000px;left:290.75px;transform:translateX(-50%);">11.2022</div><div style="position:absolute;left:315.70px;top:278.00px;width:9.70px;height:41.00px;background:#16cc9c;border-radius:1.5px 1.5px 0 0;"></div><div style="position:absolute;left:315.70px;top:318.00px;width:9.70px;height:40.50px;background:#0f58e6;border-radius:0.00px;"></div><div id="t49" style="position:absolute;top:363.92px;font-size:4.57px;line-height:4.57px;color:#b5bccd;font-weight:400;white-space:nowrap;letter-spacing:0.000px;left:320.55px;transform:translateX(-50%);">12.2022</div><div style="position:absolute;left:345.60px;top:278.00px;width:9.70px;height:41.00px;background:#f7668a;border-radius:1.5px 1.5px 0 0;"></div><div style="position:absolute;left:345.60px;top:318.00px;width:9.70px;height:40.50px;background:#0f58e6;border-radius:0.00px;"></div><div id="t50" style="position:absolute;top:363.92px;font-size:4.57px;line-height:4.57px;color:#b5bccd;font-weight:400;white-space:nowrap;letter-spacing:0.000px;left:350.45px;transform:translateX(-50%);">01.2023</div><div style="position:absolute;left:376.20px;top:307.60px;width:9.70px;height:26.40px;background:#16cc9c;border-radius:1.5px 1.5px 0 0;"></div><div style="position:absolute;left:376.20px;top:333.00px;width:9.70px;height:25.50px;background:#0f58e6;border-radius:0.00px;"></div><div id="t51" style="position:absolute;top:363.92px;font-size:4.57px;line-height:4.57px;color:#b5bccd;font-weight:400;white-space:nowrap;letter-spacing:0.000px;left:381.05px;transform:translateX(-50%);">02.2023</div><div style="position:absolute;left:406.80px;top:284.80px;width:9.70px;height:37.70px;background:#16cc9c;border-radius:1.5px 1.5px 0 0;"></div><div style="position:absolute;left:406.80px;top:321.50px;width:9.70px;height:37.00px;background:#0f58e6;border-radius:0.00px;"></div><div id="t52" style="position:absolute;top:363.92px;font-size:4.57px;line-height:4.57px;color:#b5bccd;font-weight:400;white-space:nowrap;letter-spacing:0.000px;left:411.65px;transform:translateX(-50%);">03.2023</div><div style="position:absolute;left:438.00px;top:284.80px;width:9.70px;height:37.70px;background:#f7668a;border-radius:1.5px 1.5px 0 0;"></div><div style="position:absolute;left:438.00px;top:321.50px;width:9.70px;height:37.00px;background:#0f58e6;border-radius:0.00px;"></div><div id="t53" style="position:absolute;top:363.92px;font-size:4.57px;line-height:4.57px;color:#b5bccd;font-weight:400;white-space:nowrap;letter-spacing:0.000px;left:442.85px;transform:translateX(-50%);">04.2023</div><div style="position:absolute;left:468.70px;top:304.70px;width:9.70px;height:27.40px;background:#16cc9c;border-radius:1.5px 1.5px 0 0;"></div><div style="position:absolute;left:468.70px;top:331.10px;width:9.70px;height:27.40px;background:#0f58e6;border-radius:0.00px;"></div><div id="t54" style="position:absolute;top:363.92px;font-size:4.57px;line-height:4.57px;color:#b5bccd;font-weight:400;white-space:nowrap;letter-spacing:0.000px;left:473.55px;transform:translateX(-50%);">05.2023</div><div style="position:absolute;left:499.70px;top:275.70px;width:9.70px;height:42.00px;background:#16cc9c;border-radius:1.5px 1.5px 0 0;"></div><div style="position:absolute;left:499.70px;top:316.70px;width:9.70px;height:41.80px;background:#0f58e6;border-radius:0.00px;"></div><div id="t55" style="position:absolute;top:363.92px;font-size:4.57px;line-height:4.57px;color:#b5bccd;font-weight:400;white-space:nowrap;letter-spacing:0.000px;left:504.55px;transform:translateX(-50%);">06.2023</div><div style="position:absolute;left:530.10px;top:275.70px;width:9.70px;height:42.00px;background:#f7668a;border-radius:1.5px 1.5px 0 0;"></div><div style="position:absolute;left:530.10px;top:316.70px;width:9.70px;height:41.80px;background:#0f58e6;border-radius:0.00px;"></div><div id="t56" style="position:absolute;top:363.92px;font-size:4.57px;line-height:4.57px;color:#b5bccd;font-weight:400;white-space:nowrap;letter-spacing:0.000px;left:534.95px;transform:translateX(-50%);">07.2023</div><div style="position:absolute;left:560.60px;top:302.00px;width:9.70px;height:29.00px;background:#16cc9c;border-radius:1.5px 1.5px 0 0;"></div><div style="position:absolute;left:560.60px;top:330.00px;width:9.70px;height:28.50px;background:#0f58e6;border-radius:0.00px;"></div><div id="t57" style="position:absolute;top:363.92px;font-size:4.57px;line-height:4.57px;color:#b5bccd;font-weight:400;white-space:nowrap;letter-spacing:0.000px;left:565.45px;transform:translateX(-50%);">08.2023</div><div style="position:absolute;left:591.60px;top:253.40px;width:9.70px;height:53.30px;background:#16cc9c;border-radius:1.5px 1.5px 0 0;"></div><div style="position:absolute;left:591.60px;top:305.70px;width:9.70px;height:52.80px;background:#0f58e6;border-radius:0.00px;"></div><div id="t58" style="position:absolute;top:363.92px;font-size:4.57px;line-height:4.57px;color:#b5bccd;font-weight:400;white-space:nowrap;letter-spacing:0.000px;left:596.45px;transform:translateX(-50%);">09.2023</div><div style="position:absolute;left:194.40px;top:385.00px;width:321.30px;height:95.00px;background:#ffffff;border-radius:4.00px;box-shadow:0 0 3px rgba(40,50,90,0.05)"></div><div id="t59" style="position:absolute;top:394.59px;font-size:7.89px;line-height:7.89px;color:#2e2f34;font-weight:400;white-space:nowrap;letter-spacing:-0.080px;-webkit-text-stroke:0.21px #2e2f34;left:202.00px;">Поступления</div><div style="position:absolute;left:413.90px;top:393.00px;width:76.80px;height:12.00px;background:#ffffff;border-radius:2.50px;border:1px solid #e6e9f0;box-sizing:border-box"></div><div style="position:absolute;left:413.90px;top:393.00px;width:37.70px;height:12.00px;background:#0f5ce9;border-radius:2.50px;"></div><div id="t60" style="position:absolute;top:396.69px;font-size:6.02px;line-height:6.02px;color:#fff;font-weight:400;white-space:nowrap;letter-spacing:0.000px;-webkit-text-stroke:0.16px #fff;left:432.70px;transform:translateX(-50%);">Таблицей</div><div id="t61" style="position:absolute;top:396.69px;font-size:6.02px;line-height:6.02px;color:#3a3b40;font-weight:400;white-space:nowrap;letter-spacing:0.000px;left:471.10px;transform:translateX(-50%);">Графиком</div><div style="position:absolute;left:495.50px;top:393.00px;width:11.80px;height:12.00px;background:#f0f2f7;border-radius:2.00px;"></div><div style="position:absolute;left:499.50px;top:397.10px;width:1.20px;height:1.20px;background:#c0c6d6;border-radius:50%;"></div><div style="position:absolute;left:499.50px;top:399.70px;width:1.20px;height:1.20px;background:#c0c6d6;border-radius:50%;"></div><div style="position:absolute;left:502.10px;top:397.10px;width:1.20px;height:1.20px;background:#c0c6d6;border-radius:50%;"></div><div style="position:absolute;left:502.10px;top:399.70px;width:1.20px;height:1.20px;background:#c0c6d6;border-radius:50%;"></div><div id="t62" style="position:absolute;top:419.05px;font-size:6.23px;line-height:6.23px;color:#4a4f5c;font-weight:400;white-space:nowrap;letter-spacing:0.000px;left:202.00px;transform:scaleX(0.9576);transform-origin:0 50%;">Авансовые платежи клиентов</div><div id="t63" style="position:absolute;top:419.05px;font-size:6.23px;line-height:6.23px;color:#2e2f34;font-weight:400;white-space:nowrap;letter-spacing:-0.011px;-webkit-text-stroke:0.16px #2e2f34;right:615.50px;">689 963 р.</div><div style="position:absolute;left:388.30px;top:420.30px;width:117.30px;height:3.00px;background:#e6e9f1;border-radius:1.50px;"></div><div style="position:absolute;left:388.30px;top:420.30px;width:88.00px;height:3.00px;background:#16cc9c;border-radius:1.50px;"></div><div style="position:absolute;left:202.00px;top:431.20px;width:305.00px;height:0.80px;background:#f0f1f5;border-radius:0.00px;"></div><div id="t64" style="position:absolute;top:436.85px;font-size:6.23px;line-height:6.23px;color:#4a4f5c;font-weight:400;white-space:nowrap;letter-spacing:0.000px;left:202.00px;transform:scaleX(0.9699);transform-origin:0 50%;">Покупка основных средств</div><div id="t65" style="position:absolute;top:436.85px;font-size:6.23px;line-height:6.23px;color:#2e2f34;font-weight:400;white-space:nowrap;letter-spacing:-0.011px;-webkit-text-stroke:0.16px #2e2f34;right:615.50px;">420 100 р.</div><div style="position:absolute;left:388.30px;top:438.10px;width:117.30px;height:3.00px;background:#e6e9f1;border-radius:1.50px;"></div><div style="position:absolute;left:388.30px;top:438.10px;width:38.60px;height:3.00px;background:#16cc9c;border-radius:1.50px;"></div><div style="position:absolute;left:202.00px;top:449.00px;width:305.00px;height:0.80px;background:#f0f1f5;border-radius:0.00px;"></div><div id="t66" style="position:absolute;top:454.55px;font-size:6.23px;line-height:6.23px;color:#4a4f5c;font-weight:400;white-space:nowrap;letter-spacing:0.000px;left:202.00px;transform:scaleX(0.9290);transform-origin:0 50%;">Зарплата</div><div id="t67" style="position:absolute;top:454.55px;font-size:6.23px;line-height:6.23px;color:#2e2f34;font-weight:400;white-space:nowrap;letter-spacing:-0.011px;-webkit-text-stroke:0.16px #2e2f34;right:615.50px;">372 010 р.</div><div style="position:absolute;left:388.30px;top:455.80px;width:117.30px;height:3.00px;background:#e6e9f1;border-radius:1.50px;"></div><div style="position:absolute;left:388.30px;top:455.80px;width:28.50px;height:3.00px;background:#16cc9c;border-radius:1.50px;"></div><div style="position:absolute;left:523.60px;top:385.00px;width:338.40px;height:95.00px;background:#ffffff;border-radius:4.00px;box-shadow:0 0 3px rgba(40,50,90,0.05)"></div><div id="t68" style="position:absolute;top:395.79px;font-size:7.89px;line-height:7.89px;color:#2e2f34;font-weight:400;white-space:nowrap;letter-spacing:0.000px;-webkit-text-stroke:0.21px #2e2f34;left:531.50px;transform:scaleX(0.9667);transform-origin:0 50%;">Списания</div><div style="position:absolute;left:743.50px;top:393.50px;width:56.50px;height:11.00px;background:#ffffff;border-radius:2.50px;border:1px solid #e6e9f0;box-sizing:border-box"></div><div id="t69" style="position:absolute;top:396.69px;font-size:6.02px;line-height:6.02px;color:#3a3b40;font-weight:400;white-space:nowrap;letter-spacing:0.000px;-webkit-text-stroke:0.16px #3a3b40;left:749.00px;">Таблицей</div><div id="t70" style="position:absolute;top:418.95px;font-size:6.23px;line-height:6.23px;color:#4a4f5c;font-weight:400;white-space:nowrap;letter-spacing:0.000px;left:666.30px;transform:scaleX(0.9646);transform-origin:0 50%;">Авансовые платежи клиентов</div><div style="position:absolute;left:666.30px;top:431.10px;width:133.70px;height:0.80px;background:#f0f1f5;border-radius:0.00px;"></div><div id="t71" style="position:absolute;top:436.85px;font-size:6.23px;line-height:6.23px;color:#4a4f5c;font-weight:400;white-space:nowrap;letter-spacing:-0.064px;left:666.30px;">Покупка основных средств</div><div style="position:absolute;left:666.30px;top:449.00px;width:133.70px;height:0.80px;background:#f0f1f5;border-radius:0.00px;"></div><div id="t72" style="position:absolute;top:454.45px;font-size:6.23px;line-height:6.23px;color:#4a4f5c;font-weight:400;white-space:nowrap;letter-spacing:0.000px;left:666.30px;transform:scaleX(0.9547);transform-origin:0 50%;">Зарплата</div><svg style="position:absolute;left:0;top:0" width="1000" height="479"><path d="M541.35 469.33 A49.80 49.80 0 0 1 547.17 448.04 L554.93 452.19 A41.00 41.00 0 0 0 550.14 469.71 Z" fill="#149fe6" stroke="#149fe6" stroke-width="1.6" stroke-linejoin="round"/><path d="M549.01 444.89 A49.80 49.80 0 0 1 562.96 430.41 L567.94 437.67 A41.00 41.00 0 0 0 556.44 449.59 Z" fill="#1d58e6" stroke="#1d58e6" stroke-width="1.6" stroke-linejoin="round"/><path d="M566.05 428.46 A49.80 49.80 0 0 1 582.62 422.43 L584.12 431.10 A41.00 41.00 0 0 0 570.48 436.06 Z" fill="#8b47d6" stroke="#8b47d6" stroke-width="1.6" stroke-linejoin="round"/><path d="M586.24 421.94 A49.80 49.80 0 0 1 600.94 422.68 L599.20 431.31 A41.00 41.00 0 0 0 587.10 430.70 Z" fill="#ac46c6" stroke="#ac46c6" stroke-width="1.6" stroke-linejoin="round"/><path d="M604.49 423.53 A49.80 49.80 0 0 1 629.08 439.29 L622.37 444.98 A41.00 41.00 0 0 0 602.13 432.01 Z" fill="#f23e80" stroke="#f23e80" stroke-width="1.6" stroke-linejoin="round"/><path d="M631.34 442.16 A49.80 49.80 0 0 1 640.43 478.34 L631.71 477.14 A41.00 41.00 0 0 0 624.23 447.34 Z" fill="#fb2e50" stroke="#fb2e50" stroke-width="1.6" stroke-linejoin="round"/></svg><svg style="position:absolute;left:147.5px;top:183.5px" width="9" height="8" viewBox="0 0 9 8"><path d="M3 1.2H8.5M3 4H8.5M3 6.8H8.5" stroke="#c3c9dc" stroke-width="1.3"/><path d="M0.3 1.2H2M0.3 4H2M0.3 6.8H2" stroke="#c3c9dc" stroke-width="1.3"/></svg><div id="t73" style="position:absolute;top:194.50px;font-size:4.05px;line-height:4.05px;color:#aab5d8;font-weight:400;white-space:nowrap;letter-spacing:0.059px;left:152.30px;transform:translateX(-50%);">План</div><svg style="position:absolute;left:148.5px;top:207px" width="7" height="9" viewBox="0 0 7 9"><path d="M0.5 2.5H4.5V8.5H0.5Z" fill="#cdd2e2"/><path d="M2 0.5H6.5V7H5V2H2Z" fill="#bcc3d8"/></svg><div id="t74" style="position:absolute;top:218.50px;font-size:4.05px;line-height:4.05px;color:#aab5d8;font-weight:400;white-space:nowrap;letter-spacing:0.458px;left:152.50px;transform:translateX(-50%);">Документы</div><div style="position:absolute;left:148.70px;top:232.30px;width:1.40px;height:1.40px;background:#c3c9dc;border-radius:50%;"></div><div style="position:absolute;left:148.70px;top:235.10px;width:1.40px;height:1.40px;background:#c3c9dc;border-radius:50%;"></div><div style="position:absolute;left:148.70px;top:237.90px;width:1.40px;height:1.40px;background:#c3c9dc;border-radius:50%;"></div><div style="position:absolute;left:151.50px;top:232.30px;width:1.40px;height:1.40px;background:#c3c9dc;border-radius:50%;"></div><div style="position:absolute;left:151.50px;top:235.10px;width:1.40px;height:1.40px;background:#c3c9dc;border-radius:50%;"></div><div style="position:absolute;left:151.50px;top:237.90px;width:1.40px;height:1.40px;background:#c3c9dc;border-radius:50%;"></div><div style="position:absolute;left:154.30px;top:232.30px;width:1.40px;height:1.40px;background:#c3c9dc;border-radius:50%;"></div><div style="position:absolute;left:154.30px;top:235.10px;width:1.40px;height:1.40px;background:#c3c9dc;border-radius:50%;"></div><div style="position:absolute;left:154.30px;top:237.90px;width:1.40px;height:1.40px;background:#c3c9dc;border-radius:50%;"></div><div id="t75" style="position:absolute;top:241.50px;font-size:4.05px;line-height:4.05px;color:#aab5d8;font-weight:400;white-space:nowrap;letter-spacing:0.000px;left:152.00px;transform:translateX(-50%) scaleX(0.8453);">Ещё</div><svg style="position:absolute;left:148px;top:434px" width="9" height="9" viewBox="0 0 9 9"><circle cx="4.5" cy="4.5" r="3" fill="none" stroke="#d3d8e6" stroke-width="1.6"/></svg><svg style="position:absolute;left:148px;top:453px" width="9" height="9" viewBox="0 0 9 9"><path d="M1 2H7V6H3.5L1 8Z" fill="#d3d8e6"/></svg></div></div><div style="position:absolute;left:762px;top:60px;width:228.6px;height:410.7px;border-radius:10px 10px 8px 8px;overflow:hidden;box-shadow:-4px 0 16px rgba(40,50,90,0.12)"><div style="position:absolute;left:-762px;top:-60px;width:1000px;height:479px"><div style="position:absolute;left:762.00px;top:60.00px;width:228.60px;height:410.70px;background:#ffffff;border-radius:0.00px;"></div><div style="position:absolute;left:771.30px;top:68.30px;width:1.80px;height:2.50px;background:#1d1e22;border-radius:0.50px;"></div><div style="position:absolute;left:773.90px;top:67.30px;width:1.80px;height:3.50px;background:#1d1e22;border-radius:0.50px;"></div><div style="position:absolute;left:776.50px;top:66.30px;width:1.80px;height:4.50px;background:#1d1e22;border-radius:0.50px;"></div><div style="position:absolute;left:779.10px;top:65.30px;width:1.80px;height:5.50px;background:#1d1e22;border-radius:0.50px;"></div><svg style="position:absolute;left:784.5px;top:64.5px" width="10" height="7" viewBox="0 0 10 7"><path d="M0.8 2.6C3.2 0.4 6.8 0.4 9.2 2.6M2.3 4.1C3.9 2.7 6.1 2.7 7.7 4.1" fill="none" stroke="#1d1e22" stroke-width="1.1"/><circle cx="5" cy="5.7" r="0.9" fill="#1d1e22"/></svg><div style="position:absolute;left:857.70px;top:66.40px;width:35.60px;height:6.20px;background:#ececef;border-radius:3.10px;"></div><svg style="position:absolute;left:927px;top:65.5px" width="8" height="8" viewBox="0 0 8 8"><circle cx="3.6" cy="4.3" r="2.8" fill="#1d1e22"/><path d="M0.6 1.2L1.6 0.5M6.6 1.2L5.6 0.5" stroke="#1d1e22" stroke-width="0.8"/><path d="M3.6 2.8V4.4L4.6 4.9" stroke="#fff" stroke-width="0.6" fill="none"/></svg><svg style="position:absolute;left:936.5px;top:65.5px" width="5" height="8" viewBox="0 0 5 8"><path d="M0.7 2.2L3.8 5.4L2.2 6.9V1.1L3.8 2.6L0.7 5.8" fill="none" stroke="#1d1e22" stroke-width="0.8"/></svg><div id="t76" style="position:absolute;top:65.62px;font-size:7.68px;line-height:7.68px;color:#3a3b40;font-weight:400;white-space:nowrap;letter-spacing:0.000px;left:944.90px;transform:scaleX(0.9223);transform-origin:0 50%;">100%</div><div style="position:absolute;left:966.00px;top:67.10px;width:14.00px;height:5.00px;background:#1d1e22;border-radius:1.20px;box-shadow:0 0 0 0.8px #c8c9ce"></div><div style="position:absolute;left:980.60px;top:68.60px;width:0.80px;height:2.00px;background:#1d1e22;border-radius:0.50px;"></div><div style="position:absolute;left:772.0px;top:80.7px;width:19.3px;height:19.5px;border-radius:50%;overflow:hidden;background:radial-gradient(circle at 50% 45%,#f4f7fa 0%,#d6e5f0 100%)"><div style="position:absolute;left:0;top:0;width:100%;height:100%;filter:blur(0.35px)"><div style="position:absolute;left:22%;top:12%;width:58%;height:70%;border-radius:50% 50% 35% 35%;background:#a8552c"></div><div style="position:absolute;left:18%;top:45%;width:22%;height:40%;border-radius:40%;background:#b9693e"></div><div style="position:absolute;left:62%;top:45%;width:22%;height:40%;border-radius:40%;background:#b9693e"></div><div style="position:absolute;left:33%;top:24%;width:36%;height:46%;border-radius:50%;background:#eec1a6"></div><div style="position:absolute;left:38%;top:68%;width:26%;height:40%;background:#f2cdb6"></div><div style="position:absolute;left:15%;top:86%;width:70%;height:30%;border-radius:50% 50% 0 0;background:#f6efe9"></div></div></div><div id="t77" style="position:absolute;top:84.91px;font-size:12.14px;line-height:12.14px;color:#2e2f34;font-weight:400;white-space:nowrap;letter-spacing:0.563px;-webkit-text-stroke:0.15px #2e2f34;left:799.50px;">Виджеты</div><svg style="position:absolute;left:966px;top:83.3px" width="13.5" height="13.5" viewBox="0 0 13.5 13.5"><rect x="0.9" y="0.9" width="11.7" height="11.7" rx="2.8" fill="none" stroke="#2563eb" stroke-width="1.5"/><path d="M6.75 3.7V9.8M3.7 6.75H9.8" stroke="#2563eb" stroke-width="1.5"/></svg><div style="position:absolute;left:772.00px;top:109.40px;width:208.00px;height:90.20px;background:radial-gradient(ellipse 120px 70px at 210px 95px, rgba(120,225,255,1), rgba(120,225,255,0) 100%),radial-gradient(ellipse 90px 50px at 160px 30px, rgba(40,140,255,0.8), rgba(40,140,255,0) 100%),linear-gradient(115deg,#1328c8 0%,#0d3fe0 30%,#1a6cf4 60%,#3aa5fb 85%,#6cd5fd 100%);border-radius:5.00px;"></div><div id="t78" style="position:absolute;top:121.82px;font-size:8.92px;line-height:8.92px;color:rgba(255,255,255,0.85);font-weight:400;white-space:nowrap;letter-spacing:0.425px;left:782.10px;">Выставленные счета</div><div style="position:absolute;left:950.80px;top:119.20px;width:19.20px;height:19.20px;background:rgba(255,255,255,0.42);border-radius:50%;"></div><svg style="position:absolute;left:954.4px;top:122.8px" width="12" height="12" viewBox="0 0 12 12"><path d="M6 1.5V10.5M1.5 6H10.5" stroke="#6a88c8" stroke-width="1"/></svg><div id="t79" style="position:absolute;top:135.99px;font-size:14.74px;line-height:14.74px;color:#ffffff;font-weight:400;white-space:nowrap;letter-spacing:0.139px;-webkit-text-stroke:0.18px #ffffff;left:782.00px;">1 964 331 р.</div><div style="position:absolute;left:782.00px;top:151.20px;width:84.00px;height:0.80px;background:rgba(255,255,255,0.35);border-radius:0.00px;"></div><div id="t80" style="position:absolute;top:140.79px;font-size:9.13px;line-height:9.13px;color:rgba(255,255,255,0.7);font-weight:400;white-space:nowrap;letter-spacing:0.315px;left:872.80px;">746 шт.</div><div style="position:absolute;left:782.00px;top:163.60px;width:188.00px;height:4.80px;background:rgba(255,255,255,0.35);border-radius:1.00px;"></div><div style="position:absolute;left:782.00px;top:163.60px;width:96.80px;height:4.80px;background:#ffffff;border-radius:1.00px;"></div><div style="position:absolute;left:782.00px;top:182.60px;width:2.20px;height:2.20px;background:#ffffff;border-radius:50%;"></div><div id="t81" style="position:absolute;top:180.62px;font-size:8.92px;line-height:8.92px;color:#ffffff;font-weight:400;white-space:nowrap;letter-spacing:0.039px;-webkit-text-stroke:0.11px #ffffff;left:788.30px;">290 142 р.</div><div style="position:absolute;left:788.30px;top:190.00px;width:42.70px;height:0.80px;background:rgba(255,255,255,0.35);border-radius:0.00px;"></div><div id="t82" style="position:absolute;top:180.89px;font-size:8.51px;line-height:8.51px;color:rgba(255,255,255,0.7);font-weight:400;white-space:nowrap;letter-spacing:0.000px;left:836.30px;transform:scaleX(0.9598);transform-origin:0 50%;">145 шт. оплачено</div><div style="position:absolute;left:771.70px;top:209.40px;width:208.30px;height:134.50px;background:#ffffff;border-radius:5.00px;box-shadow:0 0 0 0.6px #eef0f5, 0 1px 4px rgba(40,50,90,0.06)"></div><div id="t83" style="position:absolute;top:222.64px;font-size:8.82px;line-height:8.82px;color:#6e7aa3;font-weight:400;white-space:nowrap;letter-spacing:0.443px;left:782.00px;">К оплате</div><div style="position:absolute;left:950.80px;top:220.40px;width:19.00px;height:19.00px;background:#eef0f7;border-radius:50%;"></div><svg style="position:absolute;left:954.3px;top:223.9px" width="12" height="12" viewBox="0 0 12 12"><path d="M6 1.5V10.5M1.5 6H10.5" stroke="#3d4a78" stroke-width="1"/></svg><div id="t84" style="position:absolute;top:235.79px;font-size:15.36px;line-height:15.36px;color:#2e2f34;font-weight:400;white-space:nowrap;letter-spacing:0.000px;-webkit-text-stroke:0.18px #2e2f34;left:782.00px;transform:scaleX(0.9681);transform-origin:0 50%;">1 674 189 р.</div><div style="position:absolute;left:782.00px;top:264.40px;width:45.80px;height:4.30px;background:#1a56e0;border-radius:1.00px;"></div><div style="position:absolute;left:829.00px;top:264.40px;width:45.90px;height:4.30px;background:#f9c6d2;border-radius:1.00px;"></div><div style="position:absolute;left:876.00px;top:264.40px;width:46.90px;height:4.30px;background:#f47d8c;border-radius:1.00px;"></div><div style="position:absolute;left:924.00px;top:264.40px;width:46.00px;height:4.30px;background:#e8305e;border-radius:1.00px;"></div><div style="position:absolute;left:781.60px;top:283.90px;width:2.00px;height:2.00px;background:#1a56e0;border-radius:50%;"></div><div id="t85" style="position:absolute;top:280.84px;font-size:8.82px;line-height:8.82px;color:#2e2f34;font-weight:400;white-space:nowrap;letter-spacing:0.174px;-webkit-text-stroke:0.11px #2e2f34;left:787.80px;">356 723 р.</div><div style="position:absolute;left:787.80px;top:290.90px;width:44.00px;height:0.70px;background:#dfe3ec;border-radius:0.00px;"></div><div id="t86" style="position:absolute;top:295.22px;font-size:7.68px;line-height:7.68px;color:#8a96ba;font-weight:400;white-space:nowrap;letter-spacing:0.000px;left:787.80px;">Без просрочки</div><div style="position:absolute;left:883.30px;top:283.90px;width:2.00px;height:2.00px;background:#f9c6d2;border-radius:50%;"></div><div id="t87" style="position:absolute;top:280.84px;font-size:8.82px;line-height:8.82px;color:#2e2f34;font-weight:400;white-space:nowrap;letter-spacing:0.174px;-webkit-text-stroke:0.11px #2e2f34;left:889.50px;">282 041 р.</div><div style="position:absolute;left:889.50px;top:290.90px;width:44.00px;height:0.70px;background:#dfe3ec;border-radius:0.00px;"></div><div id="t88" style="position:absolute;top:295.22px;font-size:7.68px;line-height:7.68px;color:#8a96ba;font-weight:400;white-space:nowrap;letter-spacing:0.000px;left:889.50px;"><15 дней</div><div style="position:absolute;left:781.60px;top:315.50px;width:2.00px;height:2.00px;background:#f47d8c;border-radius:50%;"></div><div id="t89" style="position:absolute;top:312.44px;font-size:8.82px;line-height:8.82px;color:#2e2f34;font-weight:400;white-space:nowrap;letter-spacing:0.174px;-webkit-text-stroke:0.11px #2e2f34;left:787.80px;">687 050 р.</div><div style="position:absolute;left:787.80px;top:322.50px;width:44.00px;height:0.70px;background:#dfe3ec;border-radius:0.00px;"></div><div id="t90" style="position:absolute;top:326.82px;font-size:7.68px;line-height:7.68px;color:#8a96ba;font-weight:400;white-space:nowrap;letter-spacing:0.000px;left:787.80px;">15-30 дней</div><div style="position:absolute;left:883.30px;top:315.50px;width:2.00px;height:2.00px;background:#e8305e;border-radius:50%;"></div><div id="t91" style="position:absolute;top:312.44px;font-size:8.82px;line-height:8.82px;color:#2e2f34;font-weight:400;white-space:nowrap;letter-spacing:0.174px;-webkit-text-stroke:0.11px #2e2f34;left:889.50px;">253 412 р.</div><div style="position:absolute;left:889.50px;top:322.50px;width:44.00px;height:0.70px;background:#dfe3ec;border-radius:0.00px;"></div><div id="t92" style="position:absolute;top:326.82px;font-size:7.68px;line-height:7.68px;color:#8a96ba;font-weight:400;white-space:nowrap;letter-spacing:0.000px;left:889.50px;">>30 дней</div><div style="position:absolute;left:771.70px;top:354.50px;width:208.30px;height:125.50px;background:#ffffff;border-radius:5.00px;box-shadow:0 0 0 0.6px #eef0f5, 0 1px 4px rgba(40,50,90,0.06)"></div><div id="t93" style="position:absolute;top:365.89px;font-size:12.24px;line-height:12.24px;color:#2e2f34;font-weight:400;white-space:nowrap;letter-spacing:0.350px;-webkit-text-stroke:0.15px #2e2f34;left:782.20px;">Последние счета</div><div id="t94" style="position:absolute;top:390.14px;font-size:8.20px;line-height:8.20px;color:#2e2f34;font-weight:400;white-space:nowrap;letter-spacing:0.539px;-webkit-text-stroke:0.10px #2e2f34;left:782.00px;">42 000,00 р.</div><div style="position:absolute;left:899.30px;top:387.00px;width:71.10px;height:13.00px;background:#eef0f6;border-radius:3.00px;"></div><div id="t95" style="position:absolute;top:389.69px;font-size:7.89px;line-height:7.89px;color:#8a96ba;font-weight:400;white-space:nowrap;letter-spacing:-0.025px;left:934.80px;transform:translateX(-50%);">На согласовании</div><div id="t96" style="position:absolute;top:404.25px;font-size:7.47px;line-height:7.47px;color:#4a4f5c;font-weight:400;white-space:nowrap;letter-spacing:-0.141px;left:782.00px;">ООО «МАСТЕРБАРОФФ»</div><div id="t97" style="position:absolute;top:404.19px;font-size:7.89px;line-height:7.89px;color:#8a96ba;font-weight:400;white-space:nowrap;letter-spacing:-0.069px;right:30.00px;">L2744 от 14.09.2023</div><div id="t98" style="position:absolute;top:423.54px;font-size:8.20px;line-height:8.20px;color:#2e2f34;font-weight:400;white-space:nowrap;letter-spacing:0.539px;-webkit-text-stroke:0.10px #2e2f34;left:782.00px;">24 950,00 р.</div><div style="position:absolute;left:929.80px;top:421.30px;width:40.20px;height:12.10px;background:#e3f8f1;border-radius:3.00px;"></div><div id="t99" style="position:absolute;top:423.79px;font-size:7.89px;line-height:7.89px;color:#12b886;font-weight:400;white-space:nowrap;letter-spacing:0.000px;-webkit-text-stroke:0.21px #12b886;left:949.90px;transform:translateX(-50%);">Оплачен</div><div style="position:absolute;left:762.00px;top:433.40px;width:228.60px;height:35.60px;background:#eceefa;border-radius:0.00px;"></div><svg style="position:absolute;left:777px;top:441.5px" width="15" height="13" viewBox="0 0 15 13"><path d="M4.5 3.8V2.6C4.5 1.6 5.1 1 6.1 1H12.4C13.4 1 14 1.6 14 2.6V9.6C14 10.6 13.4 11.2 12.4 11.2H9.5" fill="none" stroke="#8f9abc" stroke-width="1.3"/><path d="M5.2 12L2 8.9C1 7.9 1.6 6.3 3 6.3C3.9 6.3 4.6 6.9 5.2 7.6C5.8 6.9 6.5 6.3 7.4 6.3C8.8 6.3 9.4 7.9 8.4 8.9Z" fill="none" stroke="#8f9abc" stroke-width="1.3"/></svg><div id="t100" style="position:absolute;top:455.75px;font-size:8.09px;line-height:8.09px;color:#8f9abc;font-weight:400;white-space:nowrap;letter-spacing:0.000px;left:784.70px;transform:translateX(-50%);">Лента</div><svg style="position:absolute;left:824px;top:441.5px" width="13" height="13" viewBox="0 0 13 13"><rect x="0.9" y="0.9" width="4.6" height="4.6" rx="1" fill="none" stroke="#2563eb" stroke-width="1.5"/><rect x="0.9" y="7.4" width="4.6" height="4.6" rx="1" fill="none" stroke="#2563eb" stroke-width="1.5"/><rect x="7.4" y="7.4" width="4.6" height="4.6" rx="1" fill="none" stroke="#2563eb" stroke-width="1.5"/><path d="M9.7 0.6L12.2 3.2L9.7 5.8L7.2 3.2Z" fill="none" stroke="#2563eb" stroke-width="1.5" stroke-linejoin="round"/></svg><div id="t101" style="position:absolute;top:455.75px;font-size:8.09px;line-height:8.09px;color:#2563eb;font-weight:400;white-space:nowrap;letter-spacing:0.000px;-webkit-text-stroke:0.10px #2563eb;left:829.60px;transform:translateX(-50%);">Виджеты</div><svg style="position:absolute;left:869.5px;top:441.5px" width="14" height="13" viewBox="0 0 14 13"><circle cx="8.8" cy="3.2" r="2.3" fill="none" stroke="#8f9abc" stroke-width="1.3"/><path d="M4.6 11.8C4.6 9 6.3 7.6 8.8 7.6C11.3 7.6 13 9 13 11.8Z" fill="none" stroke="#8f9abc" stroke-width="1.3" stroke-linejoin="round"/><circle cx="2.5" cy="4.2" r="1.3" fill="none" stroke="#8f9abc" stroke-width="1.1"/><path d="M3.2 7.8C1.8 8.2 1 9.3 1.2 10.6" fill="none" stroke="#8f9abc" stroke-width="1.1"/></svg><div id="t102" style="position:absolute;top:455.75px;font-size:8.09px;line-height:8.09px;color:#8f9abc;font-weight:400;white-space:nowrap;letter-spacing:0.000px;left:876.00px;transform:translateX(-50%);">Команда</div><svg style="position:absolute;left:915px;top:442px" width="14" height="13" viewBox="0 0 14 13"><path d="M1.2 3C1.2 2 1.8 1.4 2.8 1.4H10.8C11.8 1.4 12.4 2 12.4 3V8C12.4 9 11.8 9.6 10.8 9.6H5.5L2.5 12V9.6C1.8 9.6 1.2 9 1.2 8Z" fill="none" stroke="#8f9abc" stroke-width="1.3" stroke-linejoin="round"/></svg><div style="position:absolute;left:922.50px;top:438.00px;width:7.50px;height:7.50px;background:#f25a6e;border-radius:50%;border:0.6px solid #eef0fb"></div><div id="t103" style="position:absolute;top:439.42px;font-size:5.19px;line-height:5.19px;color:#fff;font-weight:700;white-space:nowrap;letter-spacing:0.000px;left:926.20px;transform:translateX(-50%);">3</div><div id="t104" style="position:absolute;top:455.75px;font-size:8.09px;line-height:8.09px;color:#8f9abc;font-weight:400;white-space:nowrap;letter-spacing:0.000px;left:921.60px;transform:translateX(-50%);">Чаты</div><div style="position:absolute;left:963.40px;top:443.00px;width:2.00px;height:2.00px;background:#8f9abc;border-radius:50%;"></div><div style="position:absolute;left:963.40px;top:447.00px;width:2.00px;height:2.00px;background:#8f9abc;border-radius:50%;"></div><div style="position:absolute;left:963.40px;top:451.00px;width:2.00px;height:2.00px;background:#8f9abc;border-radius:50%;"></div><div style="position:absolute;left:967.40px;top:443.00px;width:2.00px;height:2.00px;background:#8f9abc;border-radius:50%;"></div><div style="position:absolute;left:967.40px;top:447.00px;width:2.00px;height:2.00px;background:#8f9abc;border-radius:50%;"></div><div style="position:absolute;left:967.40px;top:451.00px;width:2.00px;height:2.00px;background:#8f9abc;border-radius:50%;"></div><div style="position:absolute;left:971.40px;top:443.00px;width:2.00px;height:2.00px;background:#8f9abc;border-radius:50%;"></div><div style="position:absolute;left:971.40px;top:447.00px;width:2.00px;height:2.00px;background:#8f9abc;border-radius:50%;"></div><div style="position:absolute;left:971.40px;top:451.00px;width:2.00px;height:2.00px;background:#8f9abc;border-radius:50%;"></div><div id="t105" style="position:absolute;top:455.75px;font-size:8.09px;line-height:8.09px;color:#8f9abc;font-weight:400;white-space:nowrap;letter-spacing:0.000px;left:968.40px;transform:translateX(-50%);">Модули</div></div></div><div style="position:absolute;left:8.00px;top:38.50px;width:159.00px;height:137.10px;background:#ffffff;border-radius:9.00px;box-shadow:0 2px 10px rgba(0,0,0,0.08)"></div><div id="t106" style="position:absolute;top:51.93px;font-size:14.53px;line-height:14.53px;color:#2e2f34;font-weight:400;white-space:nowrap;letter-spacing:1.187px;left:22.50px;">500 000 ₽</div><svg style="position:absolute;left:105px;top:53px" width="12" height="12" viewBox="0 0 12 12"><path d="M6 11V1.5M2.4 5.1L6 1.5L9.6 5.1" fill="none" stroke="#bfc8df" stroke-width="1.1"/></svg><div id="t107" style="position:absolute;top:72.79px;font-size:9.13px;line-height:9.13px;color:#a3afd3;font-weight:400;white-space:nowrap;letter-spacing:0.064px;left:23.50px;">Т-Банк</div><div style="position:absolute;left:8.00px;top:96.00px;width:159.00px;height:0.90px;background:#f5f6fa;border-radius:0.00px;"></div><div style="position:absolute;left:8.00px;top:116.60px;width:159.00px;height:0.90px;background:#f5f6fa;border-radius:0.00px;"></div><div style="position:absolute;left:8.00px;top:137.60px;width:159.00px;height:0.90px;background:#f5f6fa;border-radius:0.00px;"></div><div style="position:absolute;left:8.00px;top:158.60px;width:159.00px;height:0.90px;background:#f5f6fa;border-radius:0.00px;"></div><svg style="position:absolute;left:0;top:0" width="1000" height="479"><defs><linearGradient id="lg1" x1="8" y1="0" x2="167" y2="0" gradientUnits="userSpaceOnUse"><stop offset="0" stop-color="#3a48e6"/><stop offset="0.35" stop-color="#7a3ad8"/><stop offset="0.55" stop-color="#d84a9a"/><stop offset="0.7" stop-color="#f5507e"/><stop offset="1" stop-color="#f75e78"/></linearGradient><clipPath id="cl1"><rect x="8" y="38.5" width="159" height="137" rx="9"/></clipPath></defs><g clip-path="url(#cl1)"><path d="M-47.00 143.00 L-45.48 142.97 L-43.96 142.89 L-42.44 142.76 L-40.92 142.58 L-39.40 142.34 L-37.88 142.05 L-36.36 141.72 L-34.84 141.33 L-33.32 140.90 L-31.80 140.43 L-30.28 139.92 L-28.77 139.37 L-27.25 138.78 L-25.73 138.15 L-24.21 137.50 L-22.69 136.82 L-21.17 136.11 L-19.65 135.38 L-18.13 134.64 L-16.61 133.88 L-15.09 133.11 L-13.57 132.33 L-12.05 131.55 L-10.53 130.77 L-9.01 129.99 L-7.49 129.22 L-5.97 128.46 L-4.45 127.72 L-2.93 126.99 L-1.41 126.28 L0.11 125.60 L1.63 124.95 L3.15 124.32 L4.67 123.73 L6.18 123.18 L7.70 122.67 L9.22 122.20 L10.74 121.77 L12.26 121.38 L13.78 121.05 L15.30 120.76 L16.82 120.52 L18.34 120.34 L19.86 120.21 L21.38 120.13 L22.90 120.10 L24.43 120.13 L25.96 120.21 L27.49 120.35 L29.02 120.54 L30.55 120.78 L32.08 121.07 L33.61 121.42 L35.14 121.81 L36.67 122.25 L38.20 122.74 L39.73 123.26 L41.27 123.83 L42.80 124.43 L44.33 125.07 L45.86 125.74 L47.39 126.44 L48.92 127.17 L50.45 127.92 L51.98 128.68 L53.51 129.46 L55.04 130.25 L56.57 131.05 L58.10 131.85 L59.63 132.65 L61.16 133.45 L62.69 134.24 L64.22 135.02 L65.75 135.78 L67.28 136.53 L68.81 137.26 L70.34 137.96 L71.87 138.63 L73.40 139.27 L74.93 139.87 L76.47 140.44 L78.00 140.96 L79.53 141.45 L81.06 141.89 L82.59 142.28 L84.12 142.63 L85.65 142.92 L87.18 143.16 L88.71 143.35 L90.24 143.49 L91.77 143.57 L93.30 143.60 L94.82 143.57 L96.35 143.49 L97.87 143.35 L99.40 143.15 L100.92 142.91 L102.44 142.60 L103.97 142.25 L105.49 141.85 L107.01 141.41 L108.54 140.92 L110.06 140.39 L111.59 139.82 L113.11 139.21 L114.63 138.57 L116.16 137.91 L117.68 137.22 L119.20 136.51 L120.73 135.79 L122.25 135.05 L123.78 134.30 L125.30 133.55 L126.82 132.80 L128.35 132.05 L129.87 131.31 L131.40 130.59 L132.92 129.88 L134.44 129.19 L135.97 128.53 L137.49 127.89 L139.01 127.28 L140.54 126.71 L142.06 126.18 L143.59 125.69 L145.11 125.25 L146.63 124.85 L148.16 124.50 L149.68 124.19 L151.20 123.95 L152.73 123.75 L154.25 123.61 L155.78 123.53 L157.30 123.50 L158.80 123.52 L160.31 123.59 L161.81 123.71 L163.32 123.88 L164.82 124.09 L166.33 124.34 L167.83 124.64 L169.34 124.98 L170.84 125.36 L172.34 125.78 L173.85 126.24 L175.35 126.73 L176.86 127.25 L178.36 127.80 L179.87 128.38 L181.37 128.98 L182.88 129.60 L184.38 130.24 L185.88 130.89 L187.39 131.56 L188.89 132.23 L190.40 132.91 L191.90 133.59 L193.41 134.27 L194.91 134.94 L196.42 135.61 L197.92 136.26 L199.42 136.90 L200.93 137.52 L202.43 138.12 L203.94 138.70 L205.44 139.25 L206.95 139.77 L208.45 140.26 L209.96 140.72 L211.46 141.14 L212.96 141.52 L214.47 141.86 L215.97 142.16 L217.48 142.41 L218.98 142.62 L220.49 142.79 L221.99 142.91 L223.50 142.98 L225.00 143.00" fill="none" stroke="#eceef4" stroke-width="2.6"/><path d="M-44.80 104.10 L-43.29 104.13 L-41.77 104.24 L-40.26 104.41 L-38.75 104.65 L-37.24 104.95 L-35.72 105.33 L-34.21 105.76 L-32.70 106.27 L-31.19 106.83 L-29.67 107.46 L-28.16 108.15 L-26.65 108.89 L-25.14 109.70 L-23.62 110.56 L-22.11 111.47 L-20.60 112.43 L-19.09 113.44 L-17.57 114.50 L-16.06 115.60 L-14.55 116.74 L-13.04 117.92 L-11.52 119.14 L-10.01 120.39 L-8.50 121.66 L-6.99 122.97 L-5.48 124.29 L-3.96 125.64 L-2.45 127.00 L-0.94 128.38 L0.58 129.76 L2.09 131.15 L3.60 132.55 L5.11 133.95 L6.62 135.34 L8.14 136.72 L9.65 138.10 L11.16 139.46 L12.68 140.81 L14.19 142.13 L15.70 143.44 L17.21 144.71 L18.73 145.96 L20.24 147.18 L21.75 148.36 L23.26 149.50 L24.78 150.60 L26.29 151.66 L27.80 152.67 L29.31 153.63 L30.83 154.54 L32.34 155.40 L33.85 156.21 L35.36 156.95 L36.88 157.64 L38.39 158.27 L39.90 158.83 L41.41 159.34 L42.92 159.77 L44.44 160.15 L45.95 160.45 L47.46 160.69 L48.97 160.86 L50.49 160.97 L52.00 161.00 L53.51 160.97 L55.02 160.86 L56.54 160.69 L58.05 160.45 L59.56 160.15 L61.08 159.77 L62.59 159.34 L64.10 158.83 L65.61 158.27 L67.12 157.64 L68.64 156.95 L70.15 156.21 L71.66 155.40 L73.18 154.54 L74.69 153.63 L76.20 152.67 L77.71 151.66 L79.22 150.60 L80.74 149.50 L82.25 148.36 L83.76 147.18 L85.28 145.96 L86.79 144.71 L88.30 143.44 L89.81 142.13 L91.33 140.81 L92.84 139.46 L94.35 138.10 L95.86 136.72 L97.38 135.34 L98.89 133.95 L100.40 132.55 L101.91 131.15 L103.43 129.76 L104.94 128.38 L106.45 127.00 L107.96 125.64 L109.48 124.29 L110.99 122.97 L112.50 121.66 L114.01 120.39 L115.53 119.14 L117.04 117.92 L118.55 116.74 L120.06 115.60 L121.58 114.50 L123.09 113.44 L124.60 112.43 L126.11 111.47 L127.63 110.56 L129.14 109.70 L130.65 108.89 L132.16 108.15 L133.68 107.46 L135.19 106.83 L136.70 106.27 L138.21 105.76 L139.73 105.33 L141.24 104.95 L142.75 104.65 L144.26 104.41 L145.78 104.24 L147.29 104.13 L148.80 104.10 L150.31 104.13 L151.83 104.24 L153.34 104.41 L154.85 104.65 L156.36 104.95 L157.88 105.33 L159.39 105.76 L160.90 106.27 L162.41 106.83 L163.93 107.46 L165.44 108.15 L166.95 108.89 L168.46 109.70 L169.98 110.56 L171.49 111.47 L173.00 112.43 L174.51 113.44 L176.03 114.50 L177.54 115.60 L179.05 116.74 L180.56 117.92 L182.07 119.14 L183.59 120.39 L185.10 121.66 L186.61 122.97 L188.12 124.29 L189.64 125.64 L191.15 127.00 L192.66 128.38 L194.18 129.76 L195.69 131.15 L197.20 132.55 L198.71 133.95 L200.22 135.34 L201.74 136.72 L203.25 138.10 L204.76 139.46 L206.28 140.81 L207.79 142.13 L209.30 143.44 L210.81 144.71 L212.32 145.96 L213.84 147.18 L215.35 148.36 L216.86 149.50 L218.38 150.60 L219.89 151.66 L221.40 152.67 L222.91 153.63 L224.43 154.54 L225.94 155.40 L227.45 156.21 L228.96 156.95 L230.47 157.64 L231.99 158.27 L233.50 158.83 L235.01 159.34 L236.52 159.77 L238.04 160.15 L239.55 160.45 L241.06 160.69 L242.57 160.86 L244.09 160.97 L245.60 161.00" fill="none" stroke="url(#lg1)" stroke-width="2.4"/></g></svg><div style="position:absolute;left:8.00px;top:193.40px;width:111.00px;height:114.00px;background:#ffffff;border-radius:9.00px;box-shadow:0 2px 10px rgba(0,0,0,0.08)"></div><div id="t108" style="position:absolute;top:205.56px;font-size:9.34px;line-height:9.34px;color:#2e2f34;font-weight:400;white-space:nowrap;letter-spacing:0.482px;-webkit-text-stroke:0.24px #2e2f34;left:20.70px;">Поступления</div><div id="t109" style="position:absolute;top:219.39px;font-size:7.89px;line-height:7.89px;color:#8e9ac3;font-weight:400;white-space:nowrap;letter-spacing:0.084px;left:20.40px;">+24 700 000 ₽</div><svg style="position:absolute;left:36px;top:240px" width="56" height="56" viewBox="0 0 56 56"><defs><linearGradient id="yg" x1="0" y1="0" x2="0" y2="1"><stop offset="0" stop-color="#ffe030"/><stop offset="1" stop-color="#ffd600"/></linearGradient></defs><path d="M0 0H55.5V33C55.5 40 42 47 27.8 54.8C13.5 47 0 40 0 33Z" fill="url(#yg)"/><path d="M15 14.7H40.1L39 22.8H32.4L33.4 37.7H22.4L23.4 22.8H16.1Z" fill="#2a2a2e" stroke="#2a2a2e" stroke-width="0.5" stroke-linejoin="round"/></svg><div style="position:absolute;left:8.00px;top:325.80px;width:167.00px;height:85.40px;background:#ffffff;border-radius:9.00px;box-shadow:0 2px 10px rgba(0,0,0,0.08)"></div><div id="t110" style="position:absolute;top:339.56px;font-size:9.34px;line-height:9.34px;color:#2e2f34;font-weight:400;white-space:nowrap;letter-spacing:0.627px;-webkit-text-stroke:0.24px #2e2f34;left:20.50px;">Поступления</div><div id="t111" style="position:absolute;top:354.46px;font-size:12.45px;line-height:12.45px;color:#2d6cf0;font-weight:400;white-space:nowrap;letter-spacing:-0.005px;-webkit-text-stroke:0.15px #2d6cf0;left:20.90px;">1 336 728</div><div id="t112" style="position:absolute;top:354.46px;font-size:12.45px;line-height:12.45px;color:#9aa3bd;font-weight:400;white-space:nowrap;letter-spacing:0.000px;left:80.40px;">/</div><div id="t113" style="position:absolute;top:354.46px;font-size:12.45px;line-height:12.45px;color:#2e2f34;font-weight:400;white-space:nowrap;letter-spacing:-0.023px;-webkit-text-stroke:0.15px #2e2f34;left:87.70px;">1 288 373 р.</div><div style="position:absolute;left:20.90px;top:374.70px;width:141.90px;height:5.80px;background:linear-gradient(90deg,#1f50e0,#1f50e0 83%,#f25a78 84%,#f25a78);border-radius:3.00px;"></div><div id="t114" style="position:absolute;top:389.02px;font-size:8.92px;line-height:8.92px;color:#8e9ac3;font-weight:400;white-space:nowrap;letter-spacing:0.202px;left:21.00px;">Переплата</div><div id="t115" style="position:absolute;top:389.02px;font-size:8.92px;line-height:8.92px;color:#8e9ac3;font-weight:400;white-space:nowrap;letter-spacing:0.405px;right:837.20px;">48 355 р.</div><div style="position:absolute;left:8.20px;top:429.20px;width:111.00px;height:37.80px;background:#ffffff;border-radius:6.00px;box-shadow:0 2px 10px rgba(0,0,0,0.08)"></div><div style="position:absolute;left:8.20px;top:429.20px;width:36.80px;height:37.80px;background:#0d5cea;border-radius:6px 4px 4px 6px;"></div><svg style="position:absolute;left:18px;top:440px" width="17" height="17" viewBox="0 0 17 17"><path d="M6.3 16.2V1.9H10.8C13.8 1.9 15.5 3.6 15.5 5.7C15.5 7.8 13.8 9.5 10.8 9.5H2.8M2.8 12.9H12" fill="none" stroke="#fff" stroke-width="2.4"/></svg><div id="t116" style="position:absolute;top:437.71px;font-size:20.24px;line-height:20.24px;color:#1e5fea;font-weight:400;white-space:nowrap;letter-spacing:0.000px;-webkit-text-stroke:0.53px #1e5fea;left:64.10px;transform:translateX(-50%);">$</div><svg style="position:absolute;left:95px;top:440px" width="13" height="17" viewBox="0 0 13 17"><path d="M0.6 2H12.3M0.6 5.4H12.3M6.45 5.4V16" fill="none" stroke="#1e5fea" stroke-width="2.2"/></svg></body></html>
